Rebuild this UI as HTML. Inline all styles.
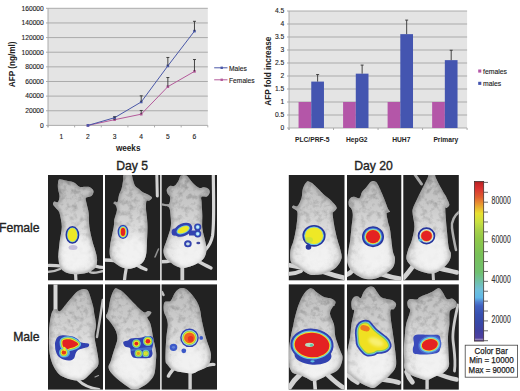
<!DOCTYPE html>
<html><head><meta charset="utf-8"><style>
html,body{margin:0;padding:0;background:#fff;width:520px;height:391px;overflow:hidden}
svg{display:block}
text{font-family:"Liberation Sans", sans-serif;fill:#222}
.t6{font-size:6.7px;stroke:#222;stroke-width:0.12px}
.t7{font-size:6.85px;stroke:#222;stroke-width:0.12px}
.b8{font-size:8.2px;font-weight:bold}
.b67{font-size:6.7px;font-weight:bold}
.t12{font-size:12.2px;stroke:#222;stroke-width:0.35px}
.t9{font-size:9px}
.cbl{font-size:10px;fill:#333;stroke:#333;stroke-width:0.15px}
.t8{font-size:8.7px;stroke:#222;stroke-width:0.25px}
</style></head><body>
<svg width="520" height="391" viewBox="0 0 520 391">
<rect x="48.0" y="8.3" width="159.80" height="117.10" fill="#e4e4e4"/>
<line x1="46.0" x2="207.8" y1="8.30" y2="8.30" stroke="#a4a4a4" stroke-width="0.9"/>
<text x="43.8" y="10.65" text-anchor="end" class="t6">160000</text>
<line x1="46.0" x2="207.8" y1="22.94" y2="22.94" stroke="#a4a4a4" stroke-width="0.9"/>
<text x="43.8" y="25.29" text-anchor="end" class="t6">140000</text>
<line x1="46.0" x2="207.8" y1="37.58" y2="37.58" stroke="#a4a4a4" stroke-width="0.9"/>
<text x="43.8" y="39.93" text-anchor="end" class="t6">120000</text>
<line x1="46.0" x2="207.8" y1="52.21" y2="52.21" stroke="#a4a4a4" stroke-width="0.9"/>
<text x="43.8" y="54.56" text-anchor="end" class="t6">100000</text>
<line x1="46.0" x2="207.8" y1="66.85" y2="66.85" stroke="#a4a4a4" stroke-width="0.9"/>
<text x="43.8" y="69.20" text-anchor="end" class="t6">80000</text>
<line x1="46.0" x2="207.8" y1="81.49" y2="81.49" stroke="#a4a4a4" stroke-width="0.9"/>
<text x="43.8" y="83.84" text-anchor="end" class="t6">60000</text>
<line x1="46.0" x2="207.8" y1="96.12" y2="96.12" stroke="#a4a4a4" stroke-width="0.9"/>
<text x="43.8" y="98.47" text-anchor="end" class="t6">40000</text>
<line x1="46.0" x2="207.8" y1="110.76" y2="110.76" stroke="#a4a4a4" stroke-width="0.9"/>
<text x="43.8" y="113.11" text-anchor="end" class="t6">20000</text>
<line x1="46.0" x2="207.8" y1="125.40" y2="125.40" stroke="#a4a4a4" stroke-width="0.9"/>
<text x="43.8" y="127.75" text-anchor="end" class="t6">0</text>
<line x1="48.0" x2="48.0" y1="8.3" y2="127.4" stroke="#a4a4a4" stroke-width="0.9"/>
<line x1="48.00" x2="48.00" y1="125.4" y2="127.4" stroke="#a4a4a4" stroke-width="0.9"/>
<line x1="74.63" x2="74.63" y1="125.4" y2="127.4" stroke="#a4a4a4" stroke-width="0.9"/>
<line x1="101.27" x2="101.27" y1="125.4" y2="127.4" stroke="#a4a4a4" stroke-width="0.9"/>
<line x1="127.90" x2="127.90" y1="125.4" y2="127.4" stroke="#a4a4a4" stroke-width="0.9"/>
<line x1="154.53" x2="154.53" y1="125.4" y2="127.4" stroke="#a4a4a4" stroke-width="0.9"/>
<line x1="181.17" x2="181.17" y1="125.4" y2="127.4" stroke="#a4a4a4" stroke-width="0.9"/>
<line x1="207.80" x2="207.80" y1="125.4" y2="127.4" stroke="#a4a4a4" stroke-width="0.9"/>
<text x="61.32" y="138.5" text-anchor="middle" class="t6">1</text>
<text x="87.95" y="138.5" text-anchor="middle" class="t6">2</text>
<text x="114.58" y="138.5" text-anchor="middle" class="t6">3</text>
<text x="141.22" y="138.5" text-anchor="middle" class="t6">4</text>
<text x="167.85" y="138.5" text-anchor="middle" class="t6">5</text>
<text x="194.48" y="138.5" text-anchor="middle" class="t6">6</text>
<polyline points="87.95,125.40 114.58,119.69 141.22,114.20 167.85,86.68 194.48,71.38" fill="none" stroke="#b45a9a" stroke-width="1"/>
<rect x="86.65" y="124.10" width="2.6" height="2.6" fill="#b45a9a"/>
<rect x="113.28" y="118.39" width="2.6" height="2.6" fill="#b45a9a"/>
<line x1="114.58" x2="114.58" y1="119.69" y2="118.96" stroke="#333" stroke-width="0.9"/>
<line x1="113.08" x2="116.08" y1="118.96" y2="118.96" stroke="#333" stroke-width="0.9"/>
<rect x="139.92" y="112.90" width="2.6" height="2.6" fill="#b45a9a"/>
<line x1="141.22" x2="141.22" y1="114.20" y2="110.47" stroke="#333" stroke-width="0.9"/>
<line x1="139.72" x2="142.72" y1="110.47" y2="110.47" stroke="#333" stroke-width="0.9"/>
<rect x="166.55" y="85.38" width="2.6" height="2.6" fill="#b45a9a"/>
<line x1="167.85" x2="167.85" y1="86.68" y2="77.53" stroke="#333" stroke-width="0.9"/>
<line x1="166.35" x2="169.35" y1="77.53" y2="77.53" stroke="#333" stroke-width="0.9"/>
<rect x="193.18" y="70.08" width="2.6" height="2.6" fill="#b45a9a"/>
<line x1="194.48" x2="194.48" y1="71.38" y2="59.52" stroke="#333" stroke-width="0.9"/>
<line x1="192.98" x2="195.98" y1="59.52" y2="59.52" stroke="#333" stroke-width="0.9"/>
<polyline points="87.95,125.40 114.58,117.71 141.22,101.98 167.85,65.89 194.48,31.12" fill="none" stroke="#4a58a8" stroke-width="1"/>
<rect x="86.65" y="124.10" width="2.6" height="2.6" fill="#4a58a8"/>
<rect x="113.28" y="116.41" width="2.6" height="2.6" fill="#4a58a8"/>
<line x1="114.58" x2="114.58" y1="117.71" y2="116.84" stroke="#333" stroke-width="0.9"/>
<line x1="113.08" x2="116.08" y1="116.84" y2="116.84" stroke="#333" stroke-width="0.9"/>
<rect x="139.92" y="100.68" width="2.6" height="2.6" fill="#4a58a8"/>
<line x1="141.22" x2="141.22" y1="101.98" y2="95.83" stroke="#333" stroke-width="0.9"/>
<line x1="139.72" x2="142.72" y1="95.83" y2="95.83" stroke="#333" stroke-width="0.9"/>
<rect x="166.55" y="64.59" width="2.6" height="2.6" fill="#4a58a8"/>
<line x1="167.85" x2="167.85" y1="65.89" y2="57.47" stroke="#333" stroke-width="0.9"/>
<line x1="166.35" x2="169.35" y1="57.47" y2="57.47" stroke="#333" stroke-width="0.9"/>
<rect x="193.18" y="29.82" width="2.6" height="2.6" fill="#4a58a8"/>
<line x1="194.48" x2="194.48" y1="31.12" y2="21.31" stroke="#333" stroke-width="0.9"/>
<line x1="192.98" x2="195.98" y1="21.31" y2="21.31" stroke="#333" stroke-width="0.9"/>
<line x1="214.2" x2="227.5" y1="67.8" y2="67.8" stroke="#4a58a8" stroke-width="1"/>
<rect x="220.5" y="66.6" width="2.4" height="2.4" fill="#4a58a8"/>
<text x="229" y="70.7" class="t6">Males</text>
<line x1="214.2" x2="227.5" y1="79.8" y2="79.8" stroke="#b45a9a" stroke-width="1"/>
<rect x="220.5" y="78.6" width="2.4" height="2.4" fill="#b45a9a"/>
<text x="229" y="82.7" class="t6">Females</text>
<text x="128.2" y="151" text-anchor="middle" class="b8">weeks</text>
<text transform="translate(15.1,64.3) rotate(-90)" text-anchor="middle" class="b8">AFP (ng/ml)</text>
<rect x="289.0" y="11.0" width="178.10" height="117.00" fill="#e4e4e4"/>
<line x1="287.0" x2="467.1" y1="11.00" y2="11.00" stroke="#a4a4a4" stroke-width="0.9"/>
<text x="284.2" y="13.35" text-anchor="end" class="t6">4.5</text>
<line x1="287.0" x2="467.1" y1="24.00" y2="24.00" stroke="#a4a4a4" stroke-width="0.9"/>
<text x="284.2" y="26.35" text-anchor="end" class="t6">4</text>
<line x1="287.0" x2="467.1" y1="37.00" y2="37.00" stroke="#a4a4a4" stroke-width="0.9"/>
<text x="284.2" y="39.35" text-anchor="end" class="t6">3.5</text>
<line x1="287.0" x2="467.1" y1="50.00" y2="50.00" stroke="#a4a4a4" stroke-width="0.9"/>
<text x="284.2" y="52.35" text-anchor="end" class="t6">3</text>
<line x1="287.0" x2="467.1" y1="63.00" y2="63.00" stroke="#a4a4a4" stroke-width="0.9"/>
<text x="284.2" y="65.35" text-anchor="end" class="t6">2.5</text>
<line x1="287.0" x2="467.1" y1="76.00" y2="76.00" stroke="#a4a4a4" stroke-width="0.9"/>
<text x="284.2" y="78.35" text-anchor="end" class="t6">2</text>
<line x1="287.0" x2="467.1" y1="89.00" y2="89.00" stroke="#a4a4a4" stroke-width="0.9"/>
<text x="284.2" y="91.35" text-anchor="end" class="t6">1.5</text>
<line x1="287.0" x2="467.1" y1="102.00" y2="102.00" stroke="#a4a4a4" stroke-width="0.9"/>
<text x="284.2" y="104.35" text-anchor="end" class="t6">1</text>
<line x1="287.0" x2="467.1" y1="115.00" y2="115.00" stroke="#a4a4a4" stroke-width="0.9"/>
<text x="284.2" y="117.35" text-anchor="end" class="t6">0.5</text>
<line x1="287.0" x2="467.1" y1="128.00" y2="128.00" stroke="#a4a4a4" stroke-width="0.9"/>
<text x="284.2" y="130.35" text-anchor="end" class="t6">0</text>
<line x1="289.0" x2="289.0" y1="11.0" y2="130.0" stroke="#a4a4a4" stroke-width="0.9"/>
<line x1="289.00" x2="289.00" y1="128.0" y2="130.0" stroke="#a4a4a4" stroke-width="0.9"/>
<line x1="333.52" x2="333.52" y1="128.0" y2="130.0" stroke="#a4a4a4" stroke-width="0.9"/>
<line x1="378.05" x2="378.05" y1="128.0" y2="130.0" stroke="#a4a4a4" stroke-width="0.9"/>
<line x1="422.58" x2="422.58" y1="128.0" y2="130.0" stroke="#a4a4a4" stroke-width="0.9"/>
<line x1="467.10" x2="467.10" y1="128.0" y2="130.0" stroke="#a4a4a4" stroke-width="0.9"/>
<rect x="298.56" y="102.00" width="12.7" height="26.00" fill="#b456a8"/>
<rect x="311.26" y="81.59" width="12.7" height="46.41" fill="#4455b0"/>
<line x1="317.61" x2="317.61" y1="81.59" y2="74.57" stroke="#333" stroke-width="0.9"/>
<line x1="316.11" x2="319.11" y1="74.57" y2="74.57" stroke="#333" stroke-width="0.9"/>
<text x="312.26" y="141.7" text-anchor="middle" class="b67">PLC/PRF-5</text>
<rect x="343.09" y="102.00" width="12.7" height="26.00" fill="#b456a8"/>
<rect x="355.79" y="73.66" width="12.7" height="54.34" fill="#4455b0"/>
<line x1="362.14" x2="362.14" y1="73.66" y2="65.08" stroke="#333" stroke-width="0.9"/>
<line x1="360.64" x2="363.64" y1="65.08" y2="65.08" stroke="#333" stroke-width="0.9"/>
<text x="356.79" y="141.7" text-anchor="middle" class="b67">HepG2</text>
<rect x="387.61" y="102.00" width="12.7" height="26.00" fill="#b456a8"/>
<rect x="400.31" y="34.14" width="12.7" height="93.86" fill="#4455b0"/>
<line x1="406.66" x2="406.66" y1="34.14" y2="20.10" stroke="#333" stroke-width="0.9"/>
<line x1="405.16" x2="408.16" y1="20.10" y2="20.10" stroke="#333" stroke-width="0.9"/>
<text x="401.31" y="141.7" text-anchor="middle" class="b67">HUH7</text>
<rect x="432.14" y="102.00" width="12.7" height="26.00" fill="#b456a8"/>
<rect x="444.84" y="60.14" width="12.7" height="67.86" fill="#4455b0"/>
<line x1="451.19" x2="451.19" y1="60.14" y2="50.26" stroke="#333" stroke-width="0.9"/>
<line x1="449.69" x2="452.69" y1="50.26" y2="50.26" stroke="#333" stroke-width="0.9"/>
<text x="445.84" y="141.7" text-anchor="middle" class="b67">Primary</text>
<rect x="478.2" y="69.5" width="3.1" height="3.1" fill="#b456a8"/>
<text x="483" y="73.7" class="t7">females</text>
<rect x="478.2" y="81.8" width="3.1" height="3.1" fill="#4455b0"/>
<text x="483" y="86" class="t7">males</text>
<text transform="translate(271.2,71.2) rotate(-90)" text-anchor="middle" class="b8">AFP fold increase</text>
<text x="132.2" y="170.0" text-anchor="middle" class="t12">Day 5</text>
<text x="373.6" y="170.0" text-anchor="middle" class="t12">Day 20</text>
<text x="39.6" y="231.5" text-anchor="end" class="t12">Female</text>
<text x="39.6" y="341.1" text-anchor="end" class="t12">Male</text>
<defs><filter id="bl" filterUnits="userSpaceOnUse" x="0" y="0" width="520" height="391"><feGaussianBlur stdDeviation="0.7"/></filter><filter id="bl2" filterUnits="userSpaceOnUse" x="0" y="0" width="520" height="391"><feGaussianBlur stdDeviation="3"/></filter><filter id="tex" filterUnits="userSpaceOnUse" x="0" y="0" width="520" height="391"><feTurbulence type="fractalNoise" baseFrequency="0.18" numOctaves="3" seed="7" result="n"/><feColorMatrix in="n" type="matrix" values="0 0 0 0 0  0 0 0 0 0  0 0 0 0 0  -1.8 0 0 0 1.0"/><feGaussianBlur stdDeviation="0.7"/><feComposite in2="SourceAlpha" operator="in"/></filter><filter id="bl15" filterUnits="userSpaceOnUse" x="0" y="0" width="520" height="391"><feGaussianBlur stdDeviation="1.6"/></filter><filter id="bb" filterUnits="userSpaceOnUse" x="0" y="0" width="520" height="391"><feGaussianBlur stdDeviation="0.55"/></filter></defs>
<clipPath id="c_f5a"><rect x="48.0" y="175.0" width="55.00" height="105.30"/></clipPath>
<linearGradient id="g_f5a" x1="0" y1="175.0" x2="0" y2="280.3" gradientUnits="userSpaceOnUse"><stop offset="0" stop-color="#bababa"/><stop offset="0.3" stop-color="#cacaca"/><stop offset="0.55" stop-color="#dedede"/><stop offset="1" stop-color="#f0f0f0"/></linearGradient>
<rect x="48.0" y="175.0" width="55.00" height="105.30" fill="#222"/>
<g clip-path="url(#c_f5a)">
<g filter="url(#bl)">
<path d="M61,266 C57,266 52,265 47,265.5" fill="none" stroke="#d2d2d2" stroke-width="3.2" stroke-linecap="round"/>
<path d="M60,269 C56,271 52,272 47,272" fill="none" stroke="#bdbdbd" stroke-width="2.4" stroke-linecap="round"/>
<path d="M95,266 C98,267 101,267.5 104,267.5" fill="none" stroke="#d2d2d2" stroke-width="3.0" stroke-linecap="round"/>
<path d="M90,272 C93,274 98,272 104,271" fill="none" stroke="#bdbdbd" stroke-width="2.4" stroke-linecap="round"/>
<path d="M75.5,272 L76,282" fill="none" stroke="#d2d2d2" stroke-width="3.2" stroke-linecap="round"/>
<path d="M59.50,179.30 C60.83,178.90 63.58,180.05 66.00,180.60 C68.42,181.15 71.75,181.57 74.00,182.60 C76.25,183.63 77.83,186.10 79.50,186.80 C81.17,187.50 82.33,186.77 84.00,186.80 C85.67,186.83 87.92,186.30 89.50,187.00 C91.08,187.70 93.17,189.50 93.50,191.00 C93.83,192.50 92.75,194.87 91.50,196.00 C90.25,197.13 86.83,196.63 86.00,197.80 C85.17,198.97 86.05,200.47 86.50,203.00 C86.95,205.53 88.22,209.00 88.70,213.00 C89.18,217.00 88.80,222.37 89.40,227.00 C90.00,231.63 91.13,236.18 92.30,240.80 C93.47,245.42 95.62,251.17 96.40,254.70 C97.18,258.23 97.23,259.78 97.00,262.00 C96.77,264.22 96.50,266.25 95.00,268.00 C93.50,269.75 90.50,271.50 88.00,272.50 C85.50,273.50 82.67,273.75 80.00,274.00 C77.33,274.25 74.50,274.33 72.00,274.00 C69.50,273.67 67.00,273.17 65.00,272.00 C63.00,270.83 61.10,269.33 60.00,267.00 C58.90,264.67 58.67,260.05 58.40,258.00 C58.13,255.95 58.17,257.57 58.40,254.70 C58.63,251.83 59.23,245.42 59.80,240.80 C60.37,236.18 61.77,231.30 61.80,227.00 C61.83,222.70 60.55,217.67 60.00,215.00 C59.45,212.33 59.33,212.33 58.50,211.00 C57.67,209.67 55.92,208.17 55.00,207.00 C54.08,205.83 53.08,204.92 53.00,204.00 C52.92,203.08 53.67,201.83 54.50,201.50 C55.33,201.17 57.17,202.92 58.00,202.00 C58.83,201.08 59.50,198.17 59.50,196.00 C59.50,193.83 58.25,191.17 58.00,189.00 C57.75,186.83 57.75,184.62 58.00,183.00 C58.25,181.38 58.17,179.70 59.50,179.30Z" fill="url(#g_f5a)"/>
</g>
<clipPath id="s_f5a"><path d="M59.50,179.30 C60.83,178.90 63.58,180.05 66.00,180.60 C68.42,181.15 71.75,181.57 74.00,182.60 C76.25,183.63 77.83,186.10 79.50,186.80 C81.17,187.50 82.33,186.77 84.00,186.80 C85.67,186.83 87.92,186.30 89.50,187.00 C91.08,187.70 93.17,189.50 93.50,191.00 C93.83,192.50 92.75,194.87 91.50,196.00 C90.25,197.13 86.83,196.63 86.00,197.80 C85.17,198.97 86.05,200.47 86.50,203.00 C86.95,205.53 88.22,209.00 88.70,213.00 C89.18,217.00 88.80,222.37 89.40,227.00 C90.00,231.63 91.13,236.18 92.30,240.80 C93.47,245.42 95.62,251.17 96.40,254.70 C97.18,258.23 97.23,259.78 97.00,262.00 C96.77,264.22 96.50,266.25 95.00,268.00 C93.50,269.75 90.50,271.50 88.00,272.50 C85.50,273.50 82.67,273.75 80.00,274.00 C77.33,274.25 74.50,274.33 72.00,274.00 C69.50,273.67 67.00,273.17 65.00,272.00 C63.00,270.83 61.10,269.33 60.00,267.00 C58.90,264.67 58.67,260.05 58.40,258.00 C58.13,255.95 58.17,257.57 58.40,254.70 C58.63,251.83 59.23,245.42 59.80,240.80 C60.37,236.18 61.77,231.30 61.80,227.00 C61.83,222.70 60.55,217.67 60.00,215.00 C59.45,212.33 59.33,212.33 58.50,211.00 C57.67,209.67 55.92,208.17 55.00,207.00 C54.08,205.83 53.08,204.92 53.00,204.00 C52.92,203.08 53.67,201.83 54.50,201.50 C55.33,201.17 57.17,202.92 58.00,202.00 C58.83,201.08 59.50,198.17 59.50,196.00 C59.50,193.83 58.25,191.17 58.00,189.00 C57.75,186.83 57.75,184.62 58.00,183.00 C58.25,181.38 58.17,179.70 59.50,179.30Z"/></clipPath>
<linearGradient id="tg_f5a" x1="0" y1="175.0" x2="0" y2="280.3" gradientUnits="userSpaceOnUse"><stop offset="0" stop-color="#fff"/><stop offset="0.5" stop-color="#999"/><stop offset="1" stop-color="#333"/></linearGradient>
<mask id="tm_f5a" maskUnits="userSpaceOnUse" x="0" y="0" width="520" height="391"><rect x="48.0" y="175.0" width="55.00" height="105.30" fill="url(#tg_f5a)"/></mask>
<g clip-path="url(#s_f5a)"><rect x="48.0" y="175.0" width="55.00" height="105.30" fill="#000" filter="url(#tex)" mask="url(#tm_f5a)" opacity="0.32"/><path d="M59.50,179.30 C60.83,178.90 63.58,180.05 66.00,180.60 C68.42,181.15 71.75,181.57 74.00,182.60 C76.25,183.63 77.83,186.10 79.50,186.80 C81.17,187.50 82.33,186.77 84.00,186.80 C85.67,186.83 87.92,186.30 89.50,187.00 C91.08,187.70 93.17,189.50 93.50,191.00 C93.83,192.50 92.75,194.87 91.50,196.00 C90.25,197.13 86.83,196.63 86.00,197.80 C85.17,198.97 86.05,200.47 86.50,203.00 C86.95,205.53 88.22,209.00 88.70,213.00 C89.18,217.00 88.80,222.37 89.40,227.00 C90.00,231.63 91.13,236.18 92.30,240.80 C93.47,245.42 95.62,251.17 96.40,254.70 C97.18,258.23 97.23,259.78 97.00,262.00 C96.77,264.22 96.50,266.25 95.00,268.00 C93.50,269.75 90.50,271.50 88.00,272.50 C85.50,273.50 82.67,273.75 80.00,274.00 C77.33,274.25 74.50,274.33 72.00,274.00 C69.50,273.67 67.00,273.17 65.00,272.00 C63.00,270.83 61.10,269.33 60.00,267.00 C58.90,264.67 58.67,260.05 58.40,258.00 C58.13,255.95 58.17,257.57 58.40,254.70 C58.63,251.83 59.23,245.42 59.80,240.80 C60.37,236.18 61.77,231.30 61.80,227.00 C61.83,222.70 60.55,217.67 60.00,215.00 C59.45,212.33 59.33,212.33 58.50,211.00 C57.67,209.67 55.92,208.17 55.00,207.00 C54.08,205.83 53.08,204.92 53.00,204.00 C52.92,203.08 53.67,201.83 54.50,201.50 C55.33,201.17 57.17,202.92 58.00,202.00 C58.83,201.08 59.50,198.17 59.50,196.00 C59.50,193.83 58.25,191.17 58.00,189.00 C57.75,186.83 57.75,184.62 58.00,183.00 C58.25,181.38 58.17,179.70 59.50,179.30Z" fill="none" stroke="#7a7a7a" stroke-width="4.5" filter="url(#bl15)" opacity="0.5"/></g>
<g clip-path="url(#s_f5a)"><ellipse cx="75.5" cy="252.9" rx="15.4" ry="17.9" fill="#f4f4f4" opacity="0.8" filter="url(#bl2)"/></g>
<g filter="url(#bb)"><ellipse cx="73" cy="247.5" rx="4.5" ry="2.5" fill="#9080c0" opacity="0.45"/><ellipse cx="72.4" cy="234.9" rx="4.8" ry="6.8" fill="#26349c" stroke="#26349c" stroke-width="4.20" stroke-linejoin="round" /><ellipse cx="72.4" cy="234.9" rx="4.8" ry="6.8" fill="#68c4e4" stroke="#68c4e4" stroke-width="1.20" stroke-linejoin="round" /><ellipse cx="72.4" cy="234.9" rx="4.8" ry="6.8" fill="#eee828" /></g>
</g>
<clipPath id="c_f5b"><rect x="105.0" y="175.0" width="55.20" height="105.30"/></clipPath>
<linearGradient id="g_f5b" x1="0" y1="175.0" x2="0" y2="280.3" gradientUnits="userSpaceOnUse"><stop offset="0" stop-color="#bababa"/><stop offset="0.3" stop-color="#cacaca"/><stop offset="0.55" stop-color="#dedede"/><stop offset="1" stop-color="#f0f0f0"/></linearGradient>
<rect x="105.0" y="175.0" width="55.20" height="105.30" fill="#222"/>
<g clip-path="url(#c_f5b)">
<g filter="url(#bl)">
<path d="M156.8,174 L157.3,196" fill="none" stroke="#d4d4d4" stroke-width="3.0" stroke-linecap="round"/>
<path d="M158.5,249 C157,252 156,255 155,257" fill="none" stroke="#909090" stroke-width="1.6" stroke-linecap="round"/>
<path d="M116,261 C112,260 108,260 104,260" fill="none" stroke="#d2d2d2" stroke-width="3.4" stroke-linecap="round"/>
<path d="M137,265 C140,267 143,268.5 146,269.5" fill="none" stroke="#d2d2d2" stroke-width="3.4" stroke-linecap="round"/>
<path d="M126.3,268 C125.5,272 124.8,276 124.3,282" fill="none" stroke="#d0d0d0" stroke-width="3.2" stroke-linecap="round"/>
<path d="M124.00,174.00 C125.33,172.83 129.50,173.00 131.00,174.00 C132.50,175.00 132.32,178.03 133.00,180.00 C133.68,181.97 134.10,184.30 135.10,185.80 C136.10,187.30 137.63,187.87 139.00,189.00 C140.37,190.13 141.80,191.68 143.30,192.60 C144.80,193.52 146.55,193.68 148.00,194.50 C149.45,195.32 151.75,196.50 152.00,197.50 C152.25,198.50 150.42,199.92 149.50,200.50 C148.58,201.08 147.08,199.62 146.50,201.00 C145.92,202.38 145.92,205.97 146.00,208.80 C146.08,211.63 146.75,214.80 147.00,218.00 C147.25,221.20 147.53,223.52 147.50,228.00 C147.47,232.48 147.05,240.40 146.80,244.90 C146.55,249.40 146.63,252.15 146.00,255.00 C145.37,257.85 144.67,260.00 143.00,262.00 C141.33,264.00 138.42,265.87 136.00,267.00 C133.58,268.13 131.00,268.80 128.50,268.80 C126.00,268.80 123.42,268.13 121.00,267.00 C118.58,265.87 115.83,263.83 114.00,262.00 C112.17,260.17 110.63,258.85 110.00,256.00 C109.37,253.15 109.58,249.73 110.20,244.90 C110.82,240.07 113.03,231.15 113.70,227.00 C114.37,222.85 113.67,222.80 114.20,220.00 C114.73,217.20 116.68,212.70 116.90,210.20 C117.12,207.70 116.07,206.13 115.50,205.00 C114.93,203.87 113.58,203.98 113.50,203.40 C113.42,202.82 114.33,201.73 115.00,201.50 C115.67,201.27 116.83,203.08 117.50,202.00 C118.17,200.92 118.32,197.25 119.00,195.00 C119.68,192.75 120.93,190.83 121.60,188.50 C122.27,186.17 122.60,183.42 123.00,181.00 C123.40,178.58 122.67,175.17 124.00,174.00Z" fill="url(#g_f5b)"/>
</g>
<clipPath id="s_f5b"><path d="M124.00,174.00 C125.33,172.83 129.50,173.00 131.00,174.00 C132.50,175.00 132.32,178.03 133.00,180.00 C133.68,181.97 134.10,184.30 135.10,185.80 C136.10,187.30 137.63,187.87 139.00,189.00 C140.37,190.13 141.80,191.68 143.30,192.60 C144.80,193.52 146.55,193.68 148.00,194.50 C149.45,195.32 151.75,196.50 152.00,197.50 C152.25,198.50 150.42,199.92 149.50,200.50 C148.58,201.08 147.08,199.62 146.50,201.00 C145.92,202.38 145.92,205.97 146.00,208.80 C146.08,211.63 146.75,214.80 147.00,218.00 C147.25,221.20 147.53,223.52 147.50,228.00 C147.47,232.48 147.05,240.40 146.80,244.90 C146.55,249.40 146.63,252.15 146.00,255.00 C145.37,257.85 144.67,260.00 143.00,262.00 C141.33,264.00 138.42,265.87 136.00,267.00 C133.58,268.13 131.00,268.80 128.50,268.80 C126.00,268.80 123.42,268.13 121.00,267.00 C118.58,265.87 115.83,263.83 114.00,262.00 C112.17,260.17 110.63,258.85 110.00,256.00 C109.37,253.15 109.58,249.73 110.20,244.90 C110.82,240.07 113.03,231.15 113.70,227.00 C114.37,222.85 113.67,222.80 114.20,220.00 C114.73,217.20 116.68,212.70 116.90,210.20 C117.12,207.70 116.07,206.13 115.50,205.00 C114.93,203.87 113.58,203.98 113.50,203.40 C113.42,202.82 114.33,201.73 115.00,201.50 C115.67,201.27 116.83,203.08 117.50,202.00 C118.17,200.92 118.32,197.25 119.00,195.00 C119.68,192.75 120.93,190.83 121.60,188.50 C122.27,186.17 122.60,183.42 123.00,181.00 C123.40,178.58 122.67,175.17 124.00,174.00Z"/></clipPath>
<linearGradient id="tg_f5b" x1="0" y1="175.0" x2="0" y2="280.3" gradientUnits="userSpaceOnUse"><stop offset="0" stop-color="#fff"/><stop offset="0.5" stop-color="#999"/><stop offset="1" stop-color="#333"/></linearGradient>
<mask id="tm_f5b" maskUnits="userSpaceOnUse" x="0" y="0" width="520" height="391"><rect x="105.0" y="175.0" width="55.20" height="105.30" fill="url(#tg_f5b)"/></mask>
<g clip-path="url(#s_f5b)"><rect x="105.0" y="175.0" width="55.20" height="105.30" fill="#000" filter="url(#tex)" mask="url(#tm_f5b)" opacity="0.32"/><path d="M124.00,174.00 C125.33,172.83 129.50,173.00 131.00,174.00 C132.50,175.00 132.32,178.03 133.00,180.00 C133.68,181.97 134.10,184.30 135.10,185.80 C136.10,187.30 137.63,187.87 139.00,189.00 C140.37,190.13 141.80,191.68 143.30,192.60 C144.80,193.52 146.55,193.68 148.00,194.50 C149.45,195.32 151.75,196.50 152.00,197.50 C152.25,198.50 150.42,199.92 149.50,200.50 C148.58,201.08 147.08,199.62 146.50,201.00 C145.92,202.38 145.92,205.97 146.00,208.80 C146.08,211.63 146.75,214.80 147.00,218.00 C147.25,221.20 147.53,223.52 147.50,228.00 C147.47,232.48 147.05,240.40 146.80,244.90 C146.55,249.40 146.63,252.15 146.00,255.00 C145.37,257.85 144.67,260.00 143.00,262.00 C141.33,264.00 138.42,265.87 136.00,267.00 C133.58,268.13 131.00,268.80 128.50,268.80 C126.00,268.80 123.42,268.13 121.00,267.00 C118.58,265.87 115.83,263.83 114.00,262.00 C112.17,260.17 110.63,258.85 110.00,256.00 C109.37,253.15 109.58,249.73 110.20,244.90 C110.82,240.07 113.03,231.15 113.70,227.00 C114.37,222.85 113.67,222.80 114.20,220.00 C114.73,217.20 116.68,212.70 116.90,210.20 C117.12,207.70 116.07,206.13 115.50,205.00 C114.93,203.87 113.58,203.98 113.50,203.40 C113.42,202.82 114.33,201.73 115.00,201.50 C115.67,201.27 116.83,203.08 117.50,202.00 C118.17,200.92 118.32,197.25 119.00,195.00 C119.68,192.75 120.93,190.83 121.60,188.50 C122.27,186.17 122.60,183.42 123.00,181.00 C123.40,178.58 122.67,175.17 124.00,174.00Z" fill="none" stroke="#7a7a7a" stroke-width="4.5" filter="url(#bl15)" opacity="0.5"/></g>
<g clip-path="url(#s_f5b)"><ellipse cx="132.6" cy="252.9" rx="15.5" ry="17.9" fill="#f4f4f4" opacity="0.8" filter="url(#bl2)"/></g>
<g filter="url(#bb)"><ellipse cx="123" cy="231.9" rx="2.3" ry="4.1" fill="#3242b0" stroke="#3242b0" stroke-width="6.20" stroke-linejoin="round" /><ellipse cx="123" cy="231.9" rx="2.3" ry="4.1" fill="#68c4e4" stroke="#68c4e4" stroke-width="3.60" stroke-linejoin="round" /><ellipse cx="123" cy="231.9" rx="2.3" ry="4.1" fill="#eee828" stroke="#eee828" stroke-width="1.80" stroke-linejoin="round" /><ellipse cx="123" cy="231.9" rx="2.3" ry="4.1" fill="#e42020" /></g>
</g>
<clipPath id="c_f5c"><rect x="161.6" y="175.0" width="55.40" height="105.30"/></clipPath>
<linearGradient id="g_f5c" x1="0" y1="175.0" x2="0" y2="280.3" gradientUnits="userSpaceOnUse"><stop offset="0" stop-color="#bababa"/><stop offset="0.3" stop-color="#cacaca"/><stop offset="0.55" stop-color="#dedede"/><stop offset="1" stop-color="#f0f0f0"/></linearGradient>
<rect x="161.6" y="175.0" width="55.40" height="105.30" fill="#222"/>
<g clip-path="url(#c_f5c)">
<g filter="url(#bl)">
<path d="M213.3,174 C213.5,200 214.5,222 212.5,236 C211,243 208.5,246.5 206,249" fill="none" stroke="#d8d8d8" stroke-width="3.2" stroke-linecap="round"/>
<path d="M171,260.6 C168,261.5 165,261.7 161,261.7" fill="none" stroke="#d2d2d2" stroke-width="3.4" stroke-linecap="round"/>
<path d="M199,261.7 C203,264 207,266 211,268" fill="none" stroke="#d2d2d2" stroke-width="3.4" stroke-linecap="round"/>
<path d="M182.3,266 L182.3,282" fill="none" stroke="#d0d0d0" stroke-width="3.8" stroke-linecap="round"/>
<path d="M181.00,175.50 C182.32,174.68 184.87,174.68 186.50,175.50 C188.13,176.32 189.38,178.82 190.80,180.40 C192.22,181.98 193.53,183.73 195.00,185.00 C196.47,186.27 198.10,187.62 199.60,188.00 C201.10,188.38 202.52,187.13 204.00,187.30 C205.48,187.47 207.55,188.12 208.50,189.00 C209.45,189.88 209.95,191.35 209.70,192.60 C209.45,193.85 208.37,195.77 207.00,196.50 C205.63,197.23 202.40,196.08 201.50,197.00 C200.60,197.92 201.47,199.00 201.60,202.00 C201.73,205.00 202.18,210.67 202.30,215.00 C202.42,219.33 201.83,223.70 202.30,228.00 C202.77,232.30 204.40,237.13 205.10,240.80 C205.80,244.47 206.68,247.13 206.50,250.00 C206.32,252.87 205.42,255.83 204.00,258.00 C202.58,260.17 200.33,261.58 198.00,263.00 C195.67,264.42 192.62,265.67 190.00,266.50 C187.38,267.33 184.63,268.08 182.30,268.00 C179.97,267.92 178.05,267.00 176.00,266.00 C173.95,265.00 171.83,263.50 170.00,262.00 C168.17,260.50 166.08,259.00 165.00,257.00 C163.92,255.00 163.25,252.70 163.50,250.00 C163.75,247.30 165.30,244.63 166.50,240.80 C167.70,236.97 170.03,231.30 170.70,227.00 C171.37,222.70 170.77,218.25 170.50,215.00 C170.23,211.75 170.02,209.00 169.10,207.50 C168.18,206.00 166.35,206.42 165.00,206.00 C163.65,205.58 161.42,205.42 161.00,205.00 C160.58,204.58 161.17,203.67 162.50,203.50 C163.83,203.33 167.75,205.08 169.00,204.00 C170.25,202.92 170.20,198.67 170.00,197.00 C169.80,195.33 168.33,195.25 167.80,194.00 C167.27,192.75 166.43,190.83 166.80,189.50 C167.17,188.17 168.72,186.62 170.00,186.00 C171.28,185.38 173.07,186.73 174.50,185.80 C175.93,184.87 177.52,182.12 178.60,180.40 C179.68,178.68 179.68,176.32 181.00,175.50Z" fill="url(#g_f5c)"/>
</g>
<clipPath id="s_f5c"><path d="M181.00,175.50 C182.32,174.68 184.87,174.68 186.50,175.50 C188.13,176.32 189.38,178.82 190.80,180.40 C192.22,181.98 193.53,183.73 195.00,185.00 C196.47,186.27 198.10,187.62 199.60,188.00 C201.10,188.38 202.52,187.13 204.00,187.30 C205.48,187.47 207.55,188.12 208.50,189.00 C209.45,189.88 209.95,191.35 209.70,192.60 C209.45,193.85 208.37,195.77 207.00,196.50 C205.63,197.23 202.40,196.08 201.50,197.00 C200.60,197.92 201.47,199.00 201.60,202.00 C201.73,205.00 202.18,210.67 202.30,215.00 C202.42,219.33 201.83,223.70 202.30,228.00 C202.77,232.30 204.40,237.13 205.10,240.80 C205.80,244.47 206.68,247.13 206.50,250.00 C206.32,252.87 205.42,255.83 204.00,258.00 C202.58,260.17 200.33,261.58 198.00,263.00 C195.67,264.42 192.62,265.67 190.00,266.50 C187.38,267.33 184.63,268.08 182.30,268.00 C179.97,267.92 178.05,267.00 176.00,266.00 C173.95,265.00 171.83,263.50 170.00,262.00 C168.17,260.50 166.08,259.00 165.00,257.00 C163.92,255.00 163.25,252.70 163.50,250.00 C163.75,247.30 165.30,244.63 166.50,240.80 C167.70,236.97 170.03,231.30 170.70,227.00 C171.37,222.70 170.77,218.25 170.50,215.00 C170.23,211.75 170.02,209.00 169.10,207.50 C168.18,206.00 166.35,206.42 165.00,206.00 C163.65,205.58 161.42,205.42 161.00,205.00 C160.58,204.58 161.17,203.67 162.50,203.50 C163.83,203.33 167.75,205.08 169.00,204.00 C170.25,202.92 170.20,198.67 170.00,197.00 C169.80,195.33 168.33,195.25 167.80,194.00 C167.27,192.75 166.43,190.83 166.80,189.50 C167.17,188.17 168.72,186.62 170.00,186.00 C171.28,185.38 173.07,186.73 174.50,185.80 C175.93,184.87 177.52,182.12 178.60,180.40 C179.68,178.68 179.68,176.32 181.00,175.50Z"/></clipPath>
<linearGradient id="tg_f5c" x1="0" y1="175.0" x2="0" y2="280.3" gradientUnits="userSpaceOnUse"><stop offset="0" stop-color="#fff"/><stop offset="0.5" stop-color="#999"/><stop offset="1" stop-color="#333"/></linearGradient>
<mask id="tm_f5c" maskUnits="userSpaceOnUse" x="0" y="0" width="520" height="391"><rect x="161.6" y="175.0" width="55.40" height="105.30" fill="url(#tg_f5c)"/></mask>
<g clip-path="url(#s_f5c)"><rect x="161.6" y="175.0" width="55.40" height="105.30" fill="#000" filter="url(#tex)" mask="url(#tm_f5c)" opacity="0.32"/><path d="M181.00,175.50 C182.32,174.68 184.87,174.68 186.50,175.50 C188.13,176.32 189.38,178.82 190.80,180.40 C192.22,181.98 193.53,183.73 195.00,185.00 C196.47,186.27 198.10,187.62 199.60,188.00 C201.10,188.38 202.52,187.13 204.00,187.30 C205.48,187.47 207.55,188.12 208.50,189.00 C209.45,189.88 209.95,191.35 209.70,192.60 C209.45,193.85 208.37,195.77 207.00,196.50 C205.63,197.23 202.40,196.08 201.50,197.00 C200.60,197.92 201.47,199.00 201.60,202.00 C201.73,205.00 202.18,210.67 202.30,215.00 C202.42,219.33 201.83,223.70 202.30,228.00 C202.77,232.30 204.40,237.13 205.10,240.80 C205.80,244.47 206.68,247.13 206.50,250.00 C206.32,252.87 205.42,255.83 204.00,258.00 C202.58,260.17 200.33,261.58 198.00,263.00 C195.67,264.42 192.62,265.67 190.00,266.50 C187.38,267.33 184.63,268.08 182.30,268.00 C179.97,267.92 178.05,267.00 176.00,266.00 C173.95,265.00 171.83,263.50 170.00,262.00 C168.17,260.50 166.08,259.00 165.00,257.00 C163.92,255.00 163.25,252.70 163.50,250.00 C163.75,247.30 165.30,244.63 166.50,240.80 C167.70,236.97 170.03,231.30 170.70,227.00 C171.37,222.70 170.77,218.25 170.50,215.00 C170.23,211.75 170.02,209.00 169.10,207.50 C168.18,206.00 166.35,206.42 165.00,206.00 C163.65,205.58 161.42,205.42 161.00,205.00 C160.58,204.58 161.17,203.67 162.50,203.50 C163.83,203.33 167.75,205.08 169.00,204.00 C170.25,202.92 170.20,198.67 170.00,197.00 C169.80,195.33 168.33,195.25 167.80,194.00 C167.27,192.75 166.43,190.83 166.80,189.50 C167.17,188.17 168.72,186.62 170.00,186.00 C171.28,185.38 173.07,186.73 174.50,185.80 C175.93,184.87 177.52,182.12 178.60,180.40 C179.68,178.68 179.68,176.32 181.00,175.50Z" fill="none" stroke="#7a7a7a" stroke-width="4.5" filter="url(#bl15)" opacity="0.5"/></g>
<g clip-path="url(#s_f5c)"><ellipse cx="189.3" cy="252.9" rx="15.5" ry="17.9" fill="#f4f4f4" opacity="0.8" filter="url(#bl2)"/></g>
<g filter="url(#bb)"><ellipse cx="174.8" cy="232.2" rx="3.2" ry="3.6" fill="#3242b0"/><rect x="189" y="230.5" width="7" height="5" fill="#3242b0"/><ellipse cx="183.2" cy="229.8" rx="6.2" ry="3.0" transform="rotate(-24 183.2 229.8)" fill="#3242b0" stroke="#3242b0" stroke-width="6.60" stroke-linejoin="round" /><ellipse cx="183.2" cy="229.8" rx="6.2" ry="3.0" transform="rotate(-24 183.2 229.8)" fill="#68c4e4" stroke="#68c4e4" stroke-width="1.80" stroke-linejoin="round" /><ellipse cx="183.2" cy="229.8" rx="6.2" ry="3.0" transform="rotate(-24 183.2 229.8)" fill="#eee828" /><rect x="195.5" y="227.5" width="4.4" height="6" fill="#3242b0"/><circle cx="197.7" cy="227.1" r="1.5" fill="#3242b0" stroke="#3242b0" stroke-width="4.20" stroke-linejoin="round" /><circle cx="197.7" cy="227.1" r="1.5" fill="#60a8e0" stroke="#60a8e0" stroke-width="1.20" stroke-linejoin="round" /><circle cx="197.7" cy="227.1" r="1.5" fill="#c8ecfa" /><circle cx="197.7" cy="233.8" r="1.5" fill="#3242b0" stroke="#3242b0" stroke-width="4.20" stroke-linejoin="round" /><circle cx="197.7" cy="233.8" r="1.5" fill="#60a8e0" stroke="#60a8e0" stroke-width="1.20" stroke-linejoin="round" /><circle cx="197.7" cy="233.8" r="1.5" fill="#c8ecfa" /><ellipse cx="187.9" cy="243.8" rx="1.9" ry="1.6" fill="#3242b0" stroke="#3242b0" stroke-width="3.80" stroke-linejoin="round" /><ellipse cx="187.9" cy="243.8" rx="1.9" ry="1.6" fill="#c8e0e8" /><ellipse cx="198.3" cy="243" rx="2.0" ry="1.2" fill="#4048a0"/></g>
</g>
<clipPath id="c_m5a"><rect x="48.0" y="284.4" width="55.00" height="105.20"/></clipPath>
<linearGradient id="g_m5a" x1="0" y1="284.4" x2="0" y2="389.6" gradientUnits="userSpaceOnUse"><stop offset="0" stop-color="#bababa"/><stop offset="0.3" stop-color="#cacaca"/><stop offset="0.55" stop-color="#dedede"/><stop offset="1" stop-color="#f0f0f0"/></linearGradient>
<rect x="48.0" y="284.4" width="55.00" height="105.20" fill="#222"/>
<g clip-path="url(#c_m5a)">
<g filter="url(#bl)">
<path d="M55.5,283 L55.5,311" fill="none" stroke="#d8d8d8" stroke-width="4.0" stroke-linecap="round"/>
<path d="M78,380 C83,385 89,388 99,389.5" fill="none" stroke="#d0d0d0" stroke-width="2.8" stroke-linecap="round"/>
<path d="M102.8,300 C101,312 99,325 97,337" fill="none" stroke="#b8b8b8" stroke-width="2.4" stroke-linecap="round"/>
<path d="M95,377 L98.5,375.5" fill="none" stroke="#a0a0a0" stroke-width="1.2" stroke-linecap="round"/>
<path d="M83.30,289.00 C84.55,288.83 85.60,288.98 86.50,289.50 C87.40,290.02 87.88,290.30 88.70,292.10 C89.52,293.90 90.60,297.65 91.40,300.30 C92.20,302.95 93.05,305.97 93.50,308.00 C93.95,310.03 93.68,309.67 94.10,312.50 C94.52,315.33 95.93,321.08 96.00,325.00 C96.07,328.92 94.37,331.87 94.50,336.00 C94.63,340.13 96.13,345.63 96.80,349.80 C97.47,353.97 98.38,358.22 98.50,361.00 C98.62,363.78 98.42,364.83 97.50,366.50 C96.58,368.17 94.58,369.42 93.00,371.00 C91.42,372.58 89.70,374.50 88.00,376.00 C86.30,377.50 85.13,379.30 82.80,380.00 C80.47,380.70 76.80,380.53 74.00,380.20 C71.20,379.87 68.43,378.95 66.00,378.00 C63.57,377.05 61.43,376.38 59.40,374.50 C57.37,372.62 55.32,369.62 53.80,366.70 C52.28,363.78 51.10,360.45 50.30,357.00 C49.50,353.55 49.22,349.50 49.00,346.00 C48.78,342.50 48.92,339.50 49.00,336.00 C49.08,332.50 49.00,329.00 49.50,325.00 C50.00,321.00 50.92,314.67 52.00,312.00 C53.08,309.33 54.63,309.15 56.00,309.00 C57.37,308.85 58.37,312.10 60.20,311.10 C62.03,310.10 64.52,305.93 67.00,303.00 C69.48,300.07 73.10,295.58 75.10,293.50 C77.10,291.42 77.63,291.25 79.00,290.50 C80.37,289.75 82.05,289.17 83.30,289.00Z" fill="url(#g_m5a)"/>
</g>
<clipPath id="s_m5a"><path d="M83.30,289.00 C84.55,288.83 85.60,288.98 86.50,289.50 C87.40,290.02 87.88,290.30 88.70,292.10 C89.52,293.90 90.60,297.65 91.40,300.30 C92.20,302.95 93.05,305.97 93.50,308.00 C93.95,310.03 93.68,309.67 94.10,312.50 C94.52,315.33 95.93,321.08 96.00,325.00 C96.07,328.92 94.37,331.87 94.50,336.00 C94.63,340.13 96.13,345.63 96.80,349.80 C97.47,353.97 98.38,358.22 98.50,361.00 C98.62,363.78 98.42,364.83 97.50,366.50 C96.58,368.17 94.58,369.42 93.00,371.00 C91.42,372.58 89.70,374.50 88.00,376.00 C86.30,377.50 85.13,379.30 82.80,380.00 C80.47,380.70 76.80,380.53 74.00,380.20 C71.20,379.87 68.43,378.95 66.00,378.00 C63.57,377.05 61.43,376.38 59.40,374.50 C57.37,372.62 55.32,369.62 53.80,366.70 C52.28,363.78 51.10,360.45 50.30,357.00 C49.50,353.55 49.22,349.50 49.00,346.00 C48.78,342.50 48.92,339.50 49.00,336.00 C49.08,332.50 49.00,329.00 49.50,325.00 C50.00,321.00 50.92,314.67 52.00,312.00 C53.08,309.33 54.63,309.15 56.00,309.00 C57.37,308.85 58.37,312.10 60.20,311.10 C62.03,310.10 64.52,305.93 67.00,303.00 C69.48,300.07 73.10,295.58 75.10,293.50 C77.10,291.42 77.63,291.25 79.00,290.50 C80.37,289.75 82.05,289.17 83.30,289.00Z"/></clipPath>
<linearGradient id="tg_m5a" x1="0" y1="284.4" x2="0" y2="389.6" gradientUnits="userSpaceOnUse"><stop offset="0" stop-color="#fff"/><stop offset="0.5" stop-color="#999"/><stop offset="1" stop-color="#333"/></linearGradient>
<mask id="tm_m5a" maskUnits="userSpaceOnUse" x="0" y="0" width="520" height="391"><rect x="48.0" y="284.4" width="55.00" height="105.20" fill="url(#tg_m5a)"/></mask>
<g clip-path="url(#s_m5a)"><rect x="48.0" y="284.4" width="55.00" height="105.20" fill="#000" filter="url(#tex)" mask="url(#tm_m5a)" opacity="0.32"/><path d="M83.30,289.00 C84.55,288.83 85.60,288.98 86.50,289.50 C87.40,290.02 87.88,290.30 88.70,292.10 C89.52,293.90 90.60,297.65 91.40,300.30 C92.20,302.95 93.05,305.97 93.50,308.00 C93.95,310.03 93.68,309.67 94.10,312.50 C94.52,315.33 95.93,321.08 96.00,325.00 C96.07,328.92 94.37,331.87 94.50,336.00 C94.63,340.13 96.13,345.63 96.80,349.80 C97.47,353.97 98.38,358.22 98.50,361.00 C98.62,363.78 98.42,364.83 97.50,366.50 C96.58,368.17 94.58,369.42 93.00,371.00 C91.42,372.58 89.70,374.50 88.00,376.00 C86.30,377.50 85.13,379.30 82.80,380.00 C80.47,380.70 76.80,380.53 74.00,380.20 C71.20,379.87 68.43,378.95 66.00,378.00 C63.57,377.05 61.43,376.38 59.40,374.50 C57.37,372.62 55.32,369.62 53.80,366.70 C52.28,363.78 51.10,360.45 50.30,357.00 C49.50,353.55 49.22,349.50 49.00,346.00 C48.78,342.50 48.92,339.50 49.00,336.00 C49.08,332.50 49.00,329.00 49.50,325.00 C50.00,321.00 50.92,314.67 52.00,312.00 C53.08,309.33 54.63,309.15 56.00,309.00 C57.37,308.85 58.37,312.10 60.20,311.10 C62.03,310.10 64.52,305.93 67.00,303.00 C69.48,300.07 73.10,295.58 75.10,293.50 C77.10,291.42 77.63,291.25 79.00,290.50 C80.37,289.75 82.05,289.17 83.30,289.00Z" fill="none" stroke="#7a7a7a" stroke-width="4.5" filter="url(#bl15)" opacity="0.5"/></g>
<g clip-path="url(#s_m5a)"><ellipse cx="75.5" cy="362.2" rx="15.4" ry="17.9" fill="#f4f4f4" opacity="0.8" filter="url(#bl2)"/></g>
<g filter="url(#bb)"><path d="M55.30,341.80 C55.73,340.30 56.48,337.98 57.70,336.90 C58.92,335.82 60.82,335.50 62.60,335.30 C64.38,335.10 66.48,335.43 68.40,335.70 C70.32,335.97 72.47,336.28 74.10,336.90 C75.73,337.52 77.12,338.52 78.20,339.40 C79.28,340.28 79.52,341.60 80.60,342.20 C81.68,342.80 83.33,342.73 84.70,343.00 C86.07,343.27 88.20,343.18 88.80,343.80 C89.40,344.42 89.25,345.97 88.30,346.70 C87.35,347.43 84.78,347.65 83.10,348.20 C81.42,348.75 79.43,349.15 78.20,350.00 C76.97,350.85 76.38,351.93 75.70,353.30 C75.02,354.67 75.05,357.02 74.10,358.20 C73.15,359.38 71.63,360.13 70.00,360.40 C68.37,360.67 66.22,360.45 64.30,359.80 C62.38,359.15 59.93,358.00 58.50,356.50 C57.07,355.00 56.27,352.57 55.70,350.80 C55.13,349.03 55.17,347.40 55.10,345.90 C55.03,344.40 54.87,343.30 55.30,341.80Z" fill="#3242b0"/><path d="M60.00,350.00 C60.67,348.83 62.67,349.00 64.00,349.00 C65.33,349.00 67.00,349.33 68.00,350.00 C69.00,350.67 70.00,351.92 70.00,353.00 C70.00,354.08 69.00,355.75 68.00,356.50 C67.00,357.25 65.33,357.58 64.00,357.50 C62.67,357.42 60.67,357.25 60.00,356.00 C59.33,354.75 59.33,351.17 60.00,350.00Z" fill="#68c4e4" opacity="0.7"/><path d="M62.60,341.00 C63.02,340.07 63.73,339.67 65.10,339.40 C66.47,339.13 69.03,339.00 70.80,339.40 C72.57,339.80 74.47,340.98 75.70,341.80 C76.93,342.62 78.33,343.48 78.20,344.30 C78.07,345.12 76.40,346.02 74.90,346.70 C73.40,347.38 70.70,347.85 69.20,348.40 C67.70,348.95 66.72,350.00 65.90,350.00 C65.08,350.00 64.85,349.23 64.30,348.40 C63.75,347.57 62.88,346.23 62.60,345.00 C62.32,343.77 62.18,341.93 62.60,341.00Z" fill="#68c4e4" stroke="#68c4e4" stroke-width="5.60" stroke-linejoin="round" /><path d="M62.60,341.00 C63.02,340.07 63.73,339.67 65.10,339.40 C66.47,339.13 69.03,339.00 70.80,339.40 C72.57,339.80 74.47,340.98 75.70,341.80 C76.93,342.62 78.33,343.48 78.20,344.30 C78.07,345.12 76.40,346.02 74.90,346.70 C73.40,347.38 70.70,347.85 69.20,348.40 C67.70,348.95 66.72,350.00 65.90,350.00 C65.08,350.00 64.85,349.23 64.30,348.40 C63.75,347.57 62.88,346.23 62.60,345.00 C62.32,343.77 62.18,341.93 62.60,341.00Z" fill="#8ccc50" stroke="#8ccc50" stroke-width="3.40" stroke-linejoin="round" /><path d="M62.60,341.00 C63.02,340.07 63.73,339.67 65.10,339.40 C66.47,339.13 69.03,339.00 70.80,339.40 C72.57,339.80 74.47,340.98 75.70,341.80 C76.93,342.62 78.33,343.48 78.20,344.30 C78.07,345.12 76.40,346.02 74.90,346.70 C73.40,347.38 70.70,347.85 69.20,348.40 C67.70,348.95 66.72,350.00 65.90,350.00 C65.08,350.00 64.85,349.23 64.30,348.40 C63.75,347.57 62.88,346.23 62.60,345.00 C62.32,343.77 62.18,341.93 62.60,341.00Z" fill="#eee828" stroke="#eee828" stroke-width="2.00" stroke-linejoin="round" /><path d="M62.60,341.00 C63.02,340.07 63.73,339.67 65.10,339.40 C66.47,339.13 69.03,339.00 70.80,339.40 C72.57,339.80 74.47,340.98 75.70,341.80 C76.93,342.62 78.33,343.48 78.20,344.30 C78.07,345.12 76.40,346.02 74.90,346.70 C73.40,347.38 70.70,347.85 69.20,348.40 C67.70,348.95 66.72,350.00 65.90,350.00 C65.08,350.00 64.85,349.23 64.30,348.40 C63.75,347.57 62.88,346.23 62.60,345.00 C62.32,343.77 62.18,341.93 62.60,341.00Z" fill="#e42020" /><circle cx="63.9" cy="352.4" r="2.2" fill="#68c4e4" stroke="#68c4e4" stroke-width="5.00" stroke-linejoin="round" /><circle cx="63.9" cy="352.4" r="2.2" fill="#8ccc50" stroke="#8ccc50" stroke-width="3.00" stroke-linejoin="round" /><circle cx="63.9" cy="352.4" r="2.2" fill="#eee828" stroke="#eee828" stroke-width="1.80" stroke-linejoin="round" /><circle cx="63.9" cy="352.4" r="2.2" fill="#e83a18" /><path d="M63.50,347.00 C63.83,346.50 65.17,346.92 65.50,347.50 C65.83,348.08 65.83,350.00 65.50,350.50 C65.17,351.00 63.83,351.08 63.50,350.50 C63.17,349.92 63.17,347.50 63.50,347.00Z" fill="#eee828"/></g>
</g>
<clipPath id="c_m5b"><rect x="105.0" y="284.4" width="55.20" height="105.20"/></clipPath>
<linearGradient id="g_m5b" x1="0" y1="284.4" x2="0" y2="389.6" gradientUnits="userSpaceOnUse"><stop offset="0" stop-color="#bababa"/><stop offset="0.3" stop-color="#cacaca"/><stop offset="0.55" stop-color="#dedede"/><stop offset="1" stop-color="#f0f0f0"/></linearGradient>
<rect x="105.0" y="284.4" width="55.20" height="105.20" fill="#222"/>
<g clip-path="url(#c_m5b)">
<g filter="url(#bl)">
<path d="M114.80,288.70 C116.17,287.37 117.63,288.93 119.00,289.50 C120.37,290.07 120.98,290.32 123.00,292.10 C125.02,293.88 128.40,297.48 131.10,300.20 C133.80,302.92 136.95,306.37 139.20,308.40 C141.45,310.43 143.13,311.97 144.60,312.40 C146.07,312.83 146.87,311.00 148.00,311.00 C149.13,311.00 151.23,311.57 151.40,312.40 C151.57,313.23 149.68,315.10 149.00,316.00 C148.32,316.90 147.05,316.45 147.30,317.80 C147.55,319.15 149.50,320.70 150.50,324.10 C151.50,327.50 152.37,333.50 153.30,338.20 C154.23,342.90 155.68,348.33 156.10,352.30 C156.52,356.27 156.12,358.30 155.80,362.00 C155.48,365.70 155.40,371.12 154.20,374.50 C153.00,377.88 150.97,380.05 148.60,382.30 C146.23,384.55 142.60,386.80 140.00,388.00 C137.40,389.20 135.28,389.88 133.00,389.50 C130.72,389.12 128.90,387.45 126.30,385.70 C123.70,383.95 120.00,381.23 117.40,379.00 C114.80,376.77 112.18,374.35 110.70,372.30 C109.22,370.25 108.50,368.55 108.50,366.70 C108.50,364.85 109.87,363.65 110.70,361.20 C111.53,358.75 112.73,354.43 113.50,352.00 C114.27,349.57 114.65,348.90 115.30,346.60 C115.95,344.30 117.40,341.02 117.40,338.20 C117.40,335.38 116.60,332.52 115.30,329.70 C114.00,326.88 111.15,323.50 109.60,321.30 C108.05,319.10 106.25,318.20 106.00,316.50 C105.75,314.80 107.30,314.27 108.10,311.10 C108.90,307.93 109.68,301.23 110.80,297.50 C111.92,293.77 113.43,290.03 114.80,288.70Z" fill="url(#g_m5b)"/>
</g>
<clipPath id="s_m5b"><path d="M114.80,288.70 C116.17,287.37 117.63,288.93 119.00,289.50 C120.37,290.07 120.98,290.32 123.00,292.10 C125.02,293.88 128.40,297.48 131.10,300.20 C133.80,302.92 136.95,306.37 139.20,308.40 C141.45,310.43 143.13,311.97 144.60,312.40 C146.07,312.83 146.87,311.00 148.00,311.00 C149.13,311.00 151.23,311.57 151.40,312.40 C151.57,313.23 149.68,315.10 149.00,316.00 C148.32,316.90 147.05,316.45 147.30,317.80 C147.55,319.15 149.50,320.70 150.50,324.10 C151.50,327.50 152.37,333.50 153.30,338.20 C154.23,342.90 155.68,348.33 156.10,352.30 C156.52,356.27 156.12,358.30 155.80,362.00 C155.48,365.70 155.40,371.12 154.20,374.50 C153.00,377.88 150.97,380.05 148.60,382.30 C146.23,384.55 142.60,386.80 140.00,388.00 C137.40,389.20 135.28,389.88 133.00,389.50 C130.72,389.12 128.90,387.45 126.30,385.70 C123.70,383.95 120.00,381.23 117.40,379.00 C114.80,376.77 112.18,374.35 110.70,372.30 C109.22,370.25 108.50,368.55 108.50,366.70 C108.50,364.85 109.87,363.65 110.70,361.20 C111.53,358.75 112.73,354.43 113.50,352.00 C114.27,349.57 114.65,348.90 115.30,346.60 C115.95,344.30 117.40,341.02 117.40,338.20 C117.40,335.38 116.60,332.52 115.30,329.70 C114.00,326.88 111.15,323.50 109.60,321.30 C108.05,319.10 106.25,318.20 106.00,316.50 C105.75,314.80 107.30,314.27 108.10,311.10 C108.90,307.93 109.68,301.23 110.80,297.50 C111.92,293.77 113.43,290.03 114.80,288.70Z"/></clipPath>
<linearGradient id="tg_m5b" x1="0" y1="284.4" x2="0" y2="389.6" gradientUnits="userSpaceOnUse"><stop offset="0" stop-color="#fff"/><stop offset="0.5" stop-color="#999"/><stop offset="1" stop-color="#333"/></linearGradient>
<mask id="tm_m5b" maskUnits="userSpaceOnUse" x="0" y="0" width="520" height="391"><rect x="105.0" y="284.4" width="55.20" height="105.20" fill="url(#tg_m5b)"/></mask>
<g clip-path="url(#s_m5b)"><rect x="105.0" y="284.4" width="55.20" height="105.20" fill="#000" filter="url(#tex)" mask="url(#tm_m5b)" opacity="0.32"/><path d="M114.80,288.70 C116.17,287.37 117.63,288.93 119.00,289.50 C120.37,290.07 120.98,290.32 123.00,292.10 C125.02,293.88 128.40,297.48 131.10,300.20 C133.80,302.92 136.95,306.37 139.20,308.40 C141.45,310.43 143.13,311.97 144.60,312.40 C146.07,312.83 146.87,311.00 148.00,311.00 C149.13,311.00 151.23,311.57 151.40,312.40 C151.57,313.23 149.68,315.10 149.00,316.00 C148.32,316.90 147.05,316.45 147.30,317.80 C147.55,319.15 149.50,320.70 150.50,324.10 C151.50,327.50 152.37,333.50 153.30,338.20 C154.23,342.90 155.68,348.33 156.10,352.30 C156.52,356.27 156.12,358.30 155.80,362.00 C155.48,365.70 155.40,371.12 154.20,374.50 C153.00,377.88 150.97,380.05 148.60,382.30 C146.23,384.55 142.60,386.80 140.00,388.00 C137.40,389.20 135.28,389.88 133.00,389.50 C130.72,389.12 128.90,387.45 126.30,385.70 C123.70,383.95 120.00,381.23 117.40,379.00 C114.80,376.77 112.18,374.35 110.70,372.30 C109.22,370.25 108.50,368.55 108.50,366.70 C108.50,364.85 109.87,363.65 110.70,361.20 C111.53,358.75 112.73,354.43 113.50,352.00 C114.27,349.57 114.65,348.90 115.30,346.60 C115.95,344.30 117.40,341.02 117.40,338.20 C117.40,335.38 116.60,332.52 115.30,329.70 C114.00,326.88 111.15,323.50 109.60,321.30 C108.05,319.10 106.25,318.20 106.00,316.50 C105.75,314.80 107.30,314.27 108.10,311.10 C108.90,307.93 109.68,301.23 110.80,297.50 C111.92,293.77 113.43,290.03 114.80,288.70Z" fill="none" stroke="#7a7a7a" stroke-width="4.5" filter="url(#bl15)" opacity="0.5"/></g>
<g clip-path="url(#s_m5b)"><ellipse cx="132.6" cy="362.2" rx="15.5" ry="17.9" fill="#f4f4f4" opacity="0.8" filter="url(#bl2)"/></g>
<g filter="url(#bb)"><path d="M123.30,342.00 C123.80,341.00 126.72,341.08 128.00,340.50 C129.28,339.92 129.00,338.95 131.00,338.50 C133.00,338.05 137.50,338.17 140.00,337.80 C142.50,337.43 144.17,336.55 146.00,336.30 C147.83,336.05 149.75,335.85 151.00,336.30 C152.25,336.75 153.17,337.55 153.50,339.00 C153.83,340.45 153.25,343.17 153.00,345.00 C152.75,346.83 152.08,348.50 152.00,350.00 C151.92,351.50 152.83,352.70 152.50,354.00 C152.17,355.30 151.92,357.10 150.00,357.80 C148.08,358.50 143.67,358.20 141.00,358.20 C138.33,358.20 135.67,358.50 134.00,357.80 C132.33,357.10 131.67,355.63 131.00,354.00 C130.33,352.37 131.00,349.25 130.00,348.00 C129.00,346.75 126.12,347.50 125.00,346.50 C123.88,345.50 122.80,343.00 123.30,342.00Z" fill="#3242b0"/><path d="M132.00,349.00 C133.33,348.50 137.00,348.33 140.00,348.00 C143.00,347.67 148.00,346.83 150.00,347.00 C152.00,347.17 152.00,348.42 152.00,349.00 C152.00,349.58 152.00,350.33 150.00,350.50 C148.00,350.67 143.00,349.92 140.00,350.00 C137.00,350.08 133.33,351.17 132.00,351.00 C130.67,350.83 130.67,349.50 132.00,349.00Z" fill="#4a78d0" opacity="0.8"/><circle cx="136.4" cy="343.6" r="1.9" fill="#68c4e4" stroke="#68c4e4" stroke-width="5.00" stroke-linejoin="round" /><circle cx="136.4" cy="343.6" r="1.9" fill="#8ccc50" stroke="#8ccc50" stroke-width="3.80" stroke-linejoin="round" /><circle cx="136.4" cy="343.6" r="1.9" fill="#eee828" stroke="#eee828" stroke-width="2.00" stroke-linejoin="round" /><circle cx="136.4" cy="343.6" r="1.9" fill="#e42020" /><circle cx="147.9" cy="341.2" r="2.3" fill="#68c4e4" stroke="#68c4e4" stroke-width="5.20" stroke-linejoin="round" /><circle cx="147.9" cy="341.2" r="2.3" fill="#8ccc50" stroke="#8ccc50" stroke-width="4.00" stroke-linejoin="round" /><circle cx="147.9" cy="341.2" r="2.3" fill="#eee828" stroke="#eee828" stroke-width="2.20" stroke-linejoin="round" /><circle cx="147.9" cy="341.2" r="2.3" fill="#e42020" /><circle cx="138.4" cy="353.4" r="1.6" fill="#68c4e4" stroke="#68c4e4" stroke-width="4.60" stroke-linejoin="round" /><circle cx="138.4" cy="353.4" r="1.6" fill="#8ccc50" stroke="#8ccc50" stroke-width="3.40" stroke-linejoin="round" /><circle cx="138.4" cy="353.4" r="1.6" fill="#eee828" stroke="#eee828" stroke-width="1.60" stroke-linejoin="round" /><circle cx="138.4" cy="353.4" r="1.6" fill="#e09828" /><circle cx="145.8" cy="353.4" r="1.4" fill="#68c4e4" stroke="#68c4e4" stroke-width="4.40" stroke-linejoin="round" /><circle cx="145.8" cy="353.4" r="1.4" fill="#8ccc50" stroke="#8ccc50" stroke-width="3.20" stroke-linejoin="round" /><circle cx="145.8" cy="353.4" r="1.4" fill="#eee828" stroke="#eee828" stroke-width="1.20" stroke-linejoin="round" /><circle cx="145.8" cy="353.4" r="1.4" fill="#d8d838" /></g>
</g>
<clipPath id="c_m5c"><rect x="161.6" y="284.4" width="55.40" height="105.20"/></clipPath>
<linearGradient id="g_m5c" x1="0" y1="284.4" x2="0" y2="389.6" gradientUnits="userSpaceOnUse"><stop offset="0" stop-color="#bababa"/><stop offset="0.3" stop-color="#cacaca"/><stop offset="0.55" stop-color="#dedede"/><stop offset="1" stop-color="#f0f0f0"/></linearGradient>
<rect x="161.6" y="284.4" width="55.40" height="105.20" fill="#222"/>
<g clip-path="url(#c_m5c)">
<g filter="url(#bl)">
<path d="M162,292 L163.5,295" fill="none" stroke="#c0c0c0" stroke-width="2.5" stroke-linecap="round"/>
<path d="M173.4,369 C171,372 169,374.5 168.5,376" fill="none" stroke="#d2d2d2" stroke-width="3.6" stroke-linecap="round"/>
<path d="M205,366 C208,365 211,364 214,364.5" fill="none" stroke="#d2d2d2" stroke-width="3.2" stroke-linecap="round"/>
<path d="M190.1,372 L190.1,391" fill="none" stroke="#d0d0d0" stroke-width="3.4" stroke-linecap="round"/>
<path d="M181.30,288.00 C182.63,287.92 184.20,287.87 186.00,289.00 C187.80,290.13 190.17,292.47 192.10,294.80 C194.03,297.13 196.23,300.28 197.60,303.00 C198.97,305.72 199.63,308.40 200.30,311.10 C200.97,313.80 200.70,314.88 201.60,319.20 C202.50,323.52 204.30,331.87 205.70,337.00 C207.10,342.13 209.12,346.67 210.00,350.00 C210.88,353.33 211.17,354.67 211.00,357.00 C210.83,359.33 210.00,362.17 209.00,364.00 C208.00,365.83 206.67,366.92 205.00,368.00 C203.33,369.08 201.12,369.60 199.00,370.50 C196.88,371.40 195.08,373.10 192.30,373.40 C189.52,373.70 185.02,372.70 182.30,372.30 C179.58,371.90 177.85,371.55 176.00,371.00 C174.15,370.45 172.70,370.17 171.20,369.00 C169.70,367.83 167.93,365.30 167.00,364.00 C166.07,362.70 165.83,363.53 165.60,361.20 C165.37,358.87 165.45,354.20 165.60,350.00 C165.75,345.80 166.13,340.17 166.50,336.00 C166.87,331.83 167.82,328.03 167.80,325.00 C167.78,321.97 167.03,319.97 166.40,317.80 C165.77,315.63 164.45,314.13 164.00,312.00 C163.55,309.87 163.45,306.73 163.70,305.00 C163.95,303.27 164.37,302.27 165.50,301.60 C166.63,300.93 169.00,302.35 170.50,301.00 C172.00,299.65 173.25,295.42 174.50,293.50 C175.75,291.58 176.87,290.42 178.00,289.50 C179.13,288.58 179.97,288.08 181.30,288.00Z" fill="url(#g_m5c)"/>
</g>
<clipPath id="s_m5c"><path d="M181.30,288.00 C182.63,287.92 184.20,287.87 186.00,289.00 C187.80,290.13 190.17,292.47 192.10,294.80 C194.03,297.13 196.23,300.28 197.60,303.00 C198.97,305.72 199.63,308.40 200.30,311.10 C200.97,313.80 200.70,314.88 201.60,319.20 C202.50,323.52 204.30,331.87 205.70,337.00 C207.10,342.13 209.12,346.67 210.00,350.00 C210.88,353.33 211.17,354.67 211.00,357.00 C210.83,359.33 210.00,362.17 209.00,364.00 C208.00,365.83 206.67,366.92 205.00,368.00 C203.33,369.08 201.12,369.60 199.00,370.50 C196.88,371.40 195.08,373.10 192.30,373.40 C189.52,373.70 185.02,372.70 182.30,372.30 C179.58,371.90 177.85,371.55 176.00,371.00 C174.15,370.45 172.70,370.17 171.20,369.00 C169.70,367.83 167.93,365.30 167.00,364.00 C166.07,362.70 165.83,363.53 165.60,361.20 C165.37,358.87 165.45,354.20 165.60,350.00 C165.75,345.80 166.13,340.17 166.50,336.00 C166.87,331.83 167.82,328.03 167.80,325.00 C167.78,321.97 167.03,319.97 166.40,317.80 C165.77,315.63 164.45,314.13 164.00,312.00 C163.55,309.87 163.45,306.73 163.70,305.00 C163.95,303.27 164.37,302.27 165.50,301.60 C166.63,300.93 169.00,302.35 170.50,301.00 C172.00,299.65 173.25,295.42 174.50,293.50 C175.75,291.58 176.87,290.42 178.00,289.50 C179.13,288.58 179.97,288.08 181.30,288.00Z"/></clipPath>
<linearGradient id="tg_m5c" x1="0" y1="284.4" x2="0" y2="389.6" gradientUnits="userSpaceOnUse"><stop offset="0" stop-color="#fff"/><stop offset="0.5" stop-color="#999"/><stop offset="1" stop-color="#333"/></linearGradient>
<mask id="tm_m5c" maskUnits="userSpaceOnUse" x="0" y="0" width="520" height="391"><rect x="161.6" y="284.4" width="55.40" height="105.20" fill="url(#tg_m5c)"/></mask>
<g clip-path="url(#s_m5c)"><rect x="161.6" y="284.4" width="55.40" height="105.20" fill="#000" filter="url(#tex)" mask="url(#tm_m5c)" opacity="0.32"/><path d="M181.30,288.00 C182.63,287.92 184.20,287.87 186.00,289.00 C187.80,290.13 190.17,292.47 192.10,294.80 C194.03,297.13 196.23,300.28 197.60,303.00 C198.97,305.72 199.63,308.40 200.30,311.10 C200.97,313.80 200.70,314.88 201.60,319.20 C202.50,323.52 204.30,331.87 205.70,337.00 C207.10,342.13 209.12,346.67 210.00,350.00 C210.88,353.33 211.17,354.67 211.00,357.00 C210.83,359.33 210.00,362.17 209.00,364.00 C208.00,365.83 206.67,366.92 205.00,368.00 C203.33,369.08 201.12,369.60 199.00,370.50 C196.88,371.40 195.08,373.10 192.30,373.40 C189.52,373.70 185.02,372.70 182.30,372.30 C179.58,371.90 177.85,371.55 176.00,371.00 C174.15,370.45 172.70,370.17 171.20,369.00 C169.70,367.83 167.93,365.30 167.00,364.00 C166.07,362.70 165.83,363.53 165.60,361.20 C165.37,358.87 165.45,354.20 165.60,350.00 C165.75,345.80 166.13,340.17 166.50,336.00 C166.87,331.83 167.82,328.03 167.80,325.00 C167.78,321.97 167.03,319.97 166.40,317.80 C165.77,315.63 164.45,314.13 164.00,312.00 C163.55,309.87 163.45,306.73 163.70,305.00 C163.95,303.27 164.37,302.27 165.50,301.60 C166.63,300.93 169.00,302.35 170.50,301.00 C172.00,299.65 173.25,295.42 174.50,293.50 C175.75,291.58 176.87,290.42 178.00,289.50 C179.13,288.58 179.97,288.08 181.30,288.00Z" fill="none" stroke="#7a7a7a" stroke-width="4.5" filter="url(#bl15)" opacity="0.5"/></g>
<g clip-path="url(#s_m5c)"><ellipse cx="189.3" cy="362.2" rx="15.5" ry="17.9" fill="#f4f4f4" opacity="0.8" filter="url(#bl2)"/></g>
<g filter="url(#bb)"><circle cx="189.5" cy="337.8" r="5.4" fill="#3242b0" stroke="#3242b0" stroke-width="7.80" stroke-linejoin="round" /><circle cx="189.5" cy="337.8" r="5.4" fill="#a8d8e8" stroke="#a8d8e8" stroke-width="5.00" stroke-linejoin="round" /><circle cx="189.5" cy="337.8" r="5.4" fill="#8ccc50" stroke="#8ccc50" stroke-width="3.40" stroke-linejoin="round" /><circle cx="189.5" cy="337.8" r="5.4" fill="#eee828" stroke="#eee828" stroke-width="1.80" stroke-linejoin="round" /><circle cx="189.5" cy="337.8" r="5.4" fill="#f06020" /><circle cx="190.6" cy="338.9" r="2.8" fill="#e83020"/><ellipse cx="173.5" cy="347.3" rx="1.6" ry="1.4" fill="#3a58c8" stroke="#3a58c8" stroke-width="4.40" stroke-linejoin="round" /><ellipse cx="173.5" cy="347.3" rx="1.6" ry="1.4" fill="#6080d8" /><circle cx="183.8" cy="350.8" r="2.4" fill="#3a58c8"/><circle cx="201.2" cy="337.9" r="1.9" fill="#3a58c8"/></g>
</g>
<clipPath id="c_f20a"><rect x="288.8" y="175.0" width="55.70" height="105.30"/></clipPath>
<linearGradient id="g_f20a" x1="0" y1="175.0" x2="0" y2="280.3" gradientUnits="userSpaceOnUse"><stop offset="0" stop-color="#bababa"/><stop offset="0.3" stop-color="#cacaca"/><stop offset="0.55" stop-color="#dedede"/><stop offset="1" stop-color="#f0f0f0"/></linearGradient>
<rect x="288.8" y="175.0" width="55.70" height="105.30" fill="#222"/>
<g clip-path="url(#c_f20a)">
<g filter="url(#bl)">
<path d="M299,267 C296,266.5 292,265.5 288,265" fill="none" stroke="#d2d2d2" stroke-width="4.6" stroke-linecap="round"/>
<path d="M301,271 C297,273 293,274 288,274" fill="none" stroke="#d2d2d2" stroke-width="4.0" stroke-linecap="round"/>
<path d="M324,272 C331,274.5 338,276.5 345,278" fill="none" stroke="#d2d2d2" stroke-width="4.6" stroke-linecap="round"/>
<path d="M307.00,181.50 C308.35,180.50 309.65,181.78 311.00,182.50 C312.35,183.22 312.83,183.67 315.10,185.80 C317.37,187.93 321.90,192.82 324.60,195.30 C327.30,197.78 329.28,198.67 331.30,200.70 C333.32,202.73 336.25,205.68 336.70,207.50 C337.15,209.32 334.67,210.47 334.00,211.60 C333.33,212.73 332.58,211.57 332.70,214.30 C332.82,217.03 333.87,223.58 334.70,228.00 C335.53,232.42 336.77,237.22 337.70,240.80 C338.63,244.38 339.67,246.53 340.30,249.50 C340.93,252.47 342.25,255.57 341.50,258.60 C340.75,261.63 338.63,265.23 335.80,267.70 C332.97,270.17 327.80,272.22 324.50,273.40 C321.20,274.58 318.47,274.62 316.00,274.80 C313.53,274.98 312.03,275.30 309.70,274.50 C307.37,273.70 304.08,271.32 302.00,270.00 C299.92,268.68 299.03,267.93 297.20,266.60 C295.37,265.27 292.13,264.65 291.00,262.00 C289.87,259.35 289.98,254.23 290.40,250.70 C290.82,247.17 292.52,244.75 293.50,240.80 C294.48,236.85 295.63,231.65 296.30,227.00 C296.97,222.35 297.72,215.82 297.50,212.90 C297.28,209.98 295.90,210.40 295.00,209.50 C294.10,208.60 292.35,208.17 292.10,207.50 C291.85,206.83 292.60,205.75 293.50,205.50 C294.40,205.25 296.17,207.25 297.50,206.00 C298.83,204.75 300.60,200.92 301.50,198.00 C302.40,195.08 301.98,191.25 302.90,188.50 C303.82,185.75 305.65,182.50 307.00,181.50Z" fill="url(#g_f20a)"/>
</g>
<clipPath id="s_f20a"><path d="M307.00,181.50 C308.35,180.50 309.65,181.78 311.00,182.50 C312.35,183.22 312.83,183.67 315.10,185.80 C317.37,187.93 321.90,192.82 324.60,195.30 C327.30,197.78 329.28,198.67 331.30,200.70 C333.32,202.73 336.25,205.68 336.70,207.50 C337.15,209.32 334.67,210.47 334.00,211.60 C333.33,212.73 332.58,211.57 332.70,214.30 C332.82,217.03 333.87,223.58 334.70,228.00 C335.53,232.42 336.77,237.22 337.70,240.80 C338.63,244.38 339.67,246.53 340.30,249.50 C340.93,252.47 342.25,255.57 341.50,258.60 C340.75,261.63 338.63,265.23 335.80,267.70 C332.97,270.17 327.80,272.22 324.50,273.40 C321.20,274.58 318.47,274.62 316.00,274.80 C313.53,274.98 312.03,275.30 309.70,274.50 C307.37,273.70 304.08,271.32 302.00,270.00 C299.92,268.68 299.03,267.93 297.20,266.60 C295.37,265.27 292.13,264.65 291.00,262.00 C289.87,259.35 289.98,254.23 290.40,250.70 C290.82,247.17 292.52,244.75 293.50,240.80 C294.48,236.85 295.63,231.65 296.30,227.00 C296.97,222.35 297.72,215.82 297.50,212.90 C297.28,209.98 295.90,210.40 295.00,209.50 C294.10,208.60 292.35,208.17 292.10,207.50 C291.85,206.83 292.60,205.75 293.50,205.50 C294.40,205.25 296.17,207.25 297.50,206.00 C298.83,204.75 300.60,200.92 301.50,198.00 C302.40,195.08 301.98,191.25 302.90,188.50 C303.82,185.75 305.65,182.50 307.00,181.50Z"/></clipPath>
<linearGradient id="tg_f20a" x1="0" y1="175.0" x2="0" y2="280.3" gradientUnits="userSpaceOnUse"><stop offset="0" stop-color="#fff"/><stop offset="0.5" stop-color="#999"/><stop offset="1" stop-color="#333"/></linearGradient>
<mask id="tm_f20a" maskUnits="userSpaceOnUse" x="0" y="0" width="520" height="391"><rect x="288.8" y="175.0" width="55.70" height="105.30" fill="url(#tg_f20a)"/></mask>
<g clip-path="url(#s_f20a)"><rect x="288.8" y="175.0" width="55.70" height="105.30" fill="#000" filter="url(#tex)" mask="url(#tm_f20a)" opacity="0.32"/><path d="M307.00,181.50 C308.35,180.50 309.65,181.78 311.00,182.50 C312.35,183.22 312.83,183.67 315.10,185.80 C317.37,187.93 321.90,192.82 324.60,195.30 C327.30,197.78 329.28,198.67 331.30,200.70 C333.32,202.73 336.25,205.68 336.70,207.50 C337.15,209.32 334.67,210.47 334.00,211.60 C333.33,212.73 332.58,211.57 332.70,214.30 C332.82,217.03 333.87,223.58 334.70,228.00 C335.53,232.42 336.77,237.22 337.70,240.80 C338.63,244.38 339.67,246.53 340.30,249.50 C340.93,252.47 342.25,255.57 341.50,258.60 C340.75,261.63 338.63,265.23 335.80,267.70 C332.97,270.17 327.80,272.22 324.50,273.40 C321.20,274.58 318.47,274.62 316.00,274.80 C313.53,274.98 312.03,275.30 309.70,274.50 C307.37,273.70 304.08,271.32 302.00,270.00 C299.92,268.68 299.03,267.93 297.20,266.60 C295.37,265.27 292.13,264.65 291.00,262.00 C289.87,259.35 289.98,254.23 290.40,250.70 C290.82,247.17 292.52,244.75 293.50,240.80 C294.48,236.85 295.63,231.65 296.30,227.00 C296.97,222.35 297.72,215.82 297.50,212.90 C297.28,209.98 295.90,210.40 295.00,209.50 C294.10,208.60 292.35,208.17 292.10,207.50 C291.85,206.83 292.60,205.75 293.50,205.50 C294.40,205.25 296.17,207.25 297.50,206.00 C298.83,204.75 300.60,200.92 301.50,198.00 C302.40,195.08 301.98,191.25 302.90,188.50 C303.82,185.75 305.65,182.50 307.00,181.50Z" fill="none" stroke="#7a7a7a" stroke-width="4.5" filter="url(#bl15)" opacity="0.5"/></g>
<g clip-path="url(#s_f20a)"><ellipse cx="316.6" cy="252.9" rx="15.6" ry="17.9" fill="#f4f4f4" opacity="0.8" filter="url(#bl2)"/></g>
<g filter="url(#bb)"><circle cx="308.5" cy="247" r="2.8" fill="#26349c"/><ellipse cx="314.0" cy="235.8" rx="9.1" ry="8.4" fill="#26349c" stroke="#26349c" stroke-width="5.00" stroke-linejoin="round" /><ellipse cx="314.0" cy="235.8" rx="9.1" ry="8.4" fill="#68c4e4" stroke="#68c4e4" stroke-width="1.80" stroke-linejoin="round" /><ellipse cx="314.0" cy="235.8" rx="9.1" ry="8.4" fill="#eee828" /><ellipse cx="309" cy="240" rx="4" ry="3" fill="#b8e040" opacity="0.6"/></g>
</g>
<clipPath id="c_f20b"><rect x="347.0" y="175.0" width="54.30" height="105.30"/></clipPath>
<linearGradient id="g_f20b" x1="0" y1="175.0" x2="0" y2="280.3" gradientUnits="userSpaceOnUse"><stop offset="0" stop-color="#bababa"/><stop offset="0.3" stop-color="#cacaca"/><stop offset="0.55" stop-color="#dedede"/><stop offset="1" stop-color="#f0f0f0"/></linearGradient>
<rect x="347.0" y="175.0" width="54.30" height="105.30" fill="#222"/>
<g clip-path="url(#c_f20b)">
<g filter="url(#bl)">
<path d="M353,270 C351,272.5 349,274 346,275" fill="none" stroke="#d2d2d2" stroke-width="4.6" stroke-linecap="round"/>
<path d="M381,274 C388,276.5 395,278 402,279" fill="none" stroke="#d2d2d2" stroke-width="4.6" stroke-linecap="round"/>
<path d="M373.10,181.00 C374.10,180.92 375.10,181.20 376.00,182.00 C376.90,182.80 377.18,183.13 378.50,185.80 C379.82,188.47 382.32,194.17 383.90,198.00 C385.48,201.83 386.98,206.53 388.00,208.80 C389.02,211.07 390.17,210.90 390.00,211.60 C389.83,212.30 387.57,212.55 387.00,213.00 C386.43,213.45 386.43,212.80 386.60,214.30 C386.77,215.80 387.42,219.38 388.00,222.00 C388.58,224.62 389.32,225.22 390.10,230.00 C390.88,234.78 391.88,245.93 392.70,250.70 C393.52,255.47 395.00,255.77 395.00,258.60 C395.00,261.43 394.78,264.87 392.70,267.70 C390.62,270.53 385.72,273.72 382.50,275.60 C379.28,277.48 376.82,278.62 373.40,279.00 C369.98,279.38 365.60,279.22 362.00,277.90 C358.40,276.58 354.25,273.75 351.80,271.10 C349.35,268.45 347.87,265.40 347.30,262.00 C346.73,258.60 347.93,254.23 348.40,250.70 C348.87,247.17 349.58,244.75 350.10,240.80 C350.62,236.85 351.05,231.30 351.50,227.00 C351.95,222.70 352.82,218.03 352.80,215.00 C352.78,211.97 352.03,210.30 351.40,208.80 C350.77,207.30 349.45,207.30 349.00,206.00 C348.55,204.70 348.37,202.42 348.70,201.00 C349.03,199.58 350.10,198.22 351.00,197.50 C351.90,196.78 352.68,196.62 354.10,196.70 C355.52,196.78 358.18,198.78 359.50,198.00 C360.82,197.22 360.87,193.80 362.00,192.00 C363.13,190.20 364.97,188.78 366.30,187.20 C367.63,185.62 368.87,183.53 370.00,182.50 C371.13,181.47 372.10,181.08 373.10,181.00Z" fill="url(#g_f20b)"/>
</g>
<clipPath id="s_f20b"><path d="M373.10,181.00 C374.10,180.92 375.10,181.20 376.00,182.00 C376.90,182.80 377.18,183.13 378.50,185.80 C379.82,188.47 382.32,194.17 383.90,198.00 C385.48,201.83 386.98,206.53 388.00,208.80 C389.02,211.07 390.17,210.90 390.00,211.60 C389.83,212.30 387.57,212.55 387.00,213.00 C386.43,213.45 386.43,212.80 386.60,214.30 C386.77,215.80 387.42,219.38 388.00,222.00 C388.58,224.62 389.32,225.22 390.10,230.00 C390.88,234.78 391.88,245.93 392.70,250.70 C393.52,255.47 395.00,255.77 395.00,258.60 C395.00,261.43 394.78,264.87 392.70,267.70 C390.62,270.53 385.72,273.72 382.50,275.60 C379.28,277.48 376.82,278.62 373.40,279.00 C369.98,279.38 365.60,279.22 362.00,277.90 C358.40,276.58 354.25,273.75 351.80,271.10 C349.35,268.45 347.87,265.40 347.30,262.00 C346.73,258.60 347.93,254.23 348.40,250.70 C348.87,247.17 349.58,244.75 350.10,240.80 C350.62,236.85 351.05,231.30 351.50,227.00 C351.95,222.70 352.82,218.03 352.80,215.00 C352.78,211.97 352.03,210.30 351.40,208.80 C350.77,207.30 349.45,207.30 349.00,206.00 C348.55,204.70 348.37,202.42 348.70,201.00 C349.03,199.58 350.10,198.22 351.00,197.50 C351.90,196.78 352.68,196.62 354.10,196.70 C355.52,196.78 358.18,198.78 359.50,198.00 C360.82,197.22 360.87,193.80 362.00,192.00 C363.13,190.20 364.97,188.78 366.30,187.20 C367.63,185.62 368.87,183.53 370.00,182.50 C371.13,181.47 372.10,181.08 373.10,181.00Z"/></clipPath>
<linearGradient id="tg_f20b" x1="0" y1="175.0" x2="0" y2="280.3" gradientUnits="userSpaceOnUse"><stop offset="0" stop-color="#fff"/><stop offset="0.5" stop-color="#999"/><stop offset="1" stop-color="#333"/></linearGradient>
<mask id="tm_f20b" maskUnits="userSpaceOnUse" x="0" y="0" width="520" height="391"><rect x="347.0" y="175.0" width="54.30" height="105.30" fill="url(#tg_f20b)"/></mask>
<g clip-path="url(#s_f20b)"><rect x="347.0" y="175.0" width="54.30" height="105.30" fill="#000" filter="url(#tex)" mask="url(#tm_f20b)" opacity="0.32"/><path d="M373.10,181.00 C374.10,180.92 375.10,181.20 376.00,182.00 C376.90,182.80 377.18,183.13 378.50,185.80 C379.82,188.47 382.32,194.17 383.90,198.00 C385.48,201.83 386.98,206.53 388.00,208.80 C389.02,211.07 390.17,210.90 390.00,211.60 C389.83,212.30 387.57,212.55 387.00,213.00 C386.43,213.45 386.43,212.80 386.60,214.30 C386.77,215.80 387.42,219.38 388.00,222.00 C388.58,224.62 389.32,225.22 390.10,230.00 C390.88,234.78 391.88,245.93 392.70,250.70 C393.52,255.47 395.00,255.77 395.00,258.60 C395.00,261.43 394.78,264.87 392.70,267.70 C390.62,270.53 385.72,273.72 382.50,275.60 C379.28,277.48 376.82,278.62 373.40,279.00 C369.98,279.38 365.60,279.22 362.00,277.90 C358.40,276.58 354.25,273.75 351.80,271.10 C349.35,268.45 347.87,265.40 347.30,262.00 C346.73,258.60 347.93,254.23 348.40,250.70 C348.87,247.17 349.58,244.75 350.10,240.80 C350.62,236.85 351.05,231.30 351.50,227.00 C351.95,222.70 352.82,218.03 352.80,215.00 C352.78,211.97 352.03,210.30 351.40,208.80 C350.77,207.30 349.45,207.30 349.00,206.00 C348.55,204.70 348.37,202.42 348.70,201.00 C349.03,199.58 350.10,198.22 351.00,197.50 C351.90,196.78 352.68,196.62 354.10,196.70 C355.52,196.78 358.18,198.78 359.50,198.00 C360.82,197.22 360.87,193.80 362.00,192.00 C363.13,190.20 364.97,188.78 366.30,187.20 C367.63,185.62 368.87,183.53 370.00,182.50 C371.13,181.47 372.10,181.08 373.10,181.00Z" fill="none" stroke="#7a7a7a" stroke-width="4.5" filter="url(#bl15)" opacity="0.5"/></g>
<g clip-path="url(#s_f20b)"><ellipse cx="374.1" cy="252.9" rx="15.2" ry="17.9" fill="#f4f4f4" opacity="0.8" filter="url(#bl2)"/></g>
<g filter="url(#bb)"><ellipse cx="373.0" cy="236.7" rx="7.1" ry="6.6" fill="#26349c" stroke="#26349c" stroke-width="7.80" stroke-linejoin="round" /><ellipse cx="373.0" cy="236.7" rx="7.1" ry="6.6" fill="#3a58c8" stroke="#3a58c8" stroke-width="5.40" stroke-linejoin="round" /><ellipse cx="373.0" cy="236.7" rx="7.1" ry="6.6" fill="#68c4e4" stroke="#68c4e4" stroke-width="3.40" stroke-linejoin="round" /><ellipse cx="373.0" cy="236.7" rx="7.1" ry="6.6" fill="#eee828" stroke="#eee828" stroke-width="1.40" stroke-linejoin="round" /><ellipse cx="373.0" cy="236.7" rx="7.1" ry="6.6" fill="#e42020" /></g>
</g>
<clipPath id="c_f20c"><rect x="403.3" y="175.0" width="55.50" height="105.30"/></clipPath>
<linearGradient id="g_f20c" x1="0" y1="175.0" x2="0" y2="280.3" gradientUnits="userSpaceOnUse"><stop offset="0" stop-color="#bababa"/><stop offset="0.3" stop-color="#cacaca"/><stop offset="0.55" stop-color="#dedede"/><stop offset="1" stop-color="#f0f0f0"/></linearGradient>
<rect x="403.3" y="175.0" width="55.50" height="105.30" fill="#222"/>
<g clip-path="url(#c_f20c)">
<g filter="url(#bl)">
<path d="M414.5,174 L421.5,184" fill="none" stroke="#a8a8a8" stroke-width="3.0" stroke-linecap="round"/>
<path d="M460,211 C455,215 451,220 452,228 C453,236 454.5,243 456,250" fill="none" stroke="#b0b0b0" stroke-width="2.5" stroke-linecap="round"/>
<path d="M413,266 C410,270.5 407,274 404,277.5" fill="none" stroke="#d2d2d2" stroke-width="4.8" stroke-linecap="round"/>
<path d="M440,268.5 C446,270 451,271 457,272.5" fill="none" stroke="#d2d2d2" stroke-width="4.6" stroke-linecap="round"/>
<path d="M433,272 L433.5,281" fill="none" stroke="#c8c8c8" stroke-width="3.0" stroke-linecap="round"/>
<path d="M429.00,174.00 C430.13,173.38 433.37,173.38 434.50,174.00 C435.63,174.62 434.67,175.28 435.80,177.70 C436.93,180.12 439.72,185.57 441.30,188.50 C442.88,191.43 444.40,193.72 445.30,195.30 C446.20,196.88 446.02,196.42 446.70,198.00 C447.38,199.58 449.43,203.13 449.40,204.80 C449.37,206.47 447.18,207.33 446.50,208.00 C445.82,208.67 445.27,205.47 445.30,208.80 C445.33,212.13 446.13,221.58 446.70,228.00 C447.27,234.42 447.98,242.95 448.70,247.30 C449.42,251.65 451.00,251.65 451.00,254.10 C451.00,256.55 450.42,259.35 448.70,262.00 C446.98,264.65 443.35,268.10 440.70,270.00 C438.05,271.90 435.63,273.03 432.80,273.40 C429.97,273.77 426.92,273.15 423.70,272.20 C420.48,271.25 416.33,269.77 413.50,267.70 C410.67,265.63 407.65,262.63 406.70,259.80 C405.75,256.97 406.97,253.87 407.80,250.70 C408.63,247.53 410.60,244.75 411.70,240.80 C412.80,236.85 414.22,231.30 414.40,227.00 C414.58,222.70 413.07,218.03 412.80,215.00 C412.53,211.97 412.12,211.40 412.80,208.80 C413.48,206.20 415.32,202.78 416.90,199.40 C418.48,196.02 420.50,192.12 422.30,188.50 C424.10,184.88 426.58,180.12 427.70,177.70 C428.82,175.28 427.87,174.62 429.00,174.00Z" fill="url(#g_f20c)"/>
</g>
<clipPath id="s_f20c"><path d="M429.00,174.00 C430.13,173.38 433.37,173.38 434.50,174.00 C435.63,174.62 434.67,175.28 435.80,177.70 C436.93,180.12 439.72,185.57 441.30,188.50 C442.88,191.43 444.40,193.72 445.30,195.30 C446.20,196.88 446.02,196.42 446.70,198.00 C447.38,199.58 449.43,203.13 449.40,204.80 C449.37,206.47 447.18,207.33 446.50,208.00 C445.82,208.67 445.27,205.47 445.30,208.80 C445.33,212.13 446.13,221.58 446.70,228.00 C447.27,234.42 447.98,242.95 448.70,247.30 C449.42,251.65 451.00,251.65 451.00,254.10 C451.00,256.55 450.42,259.35 448.70,262.00 C446.98,264.65 443.35,268.10 440.70,270.00 C438.05,271.90 435.63,273.03 432.80,273.40 C429.97,273.77 426.92,273.15 423.70,272.20 C420.48,271.25 416.33,269.77 413.50,267.70 C410.67,265.63 407.65,262.63 406.70,259.80 C405.75,256.97 406.97,253.87 407.80,250.70 C408.63,247.53 410.60,244.75 411.70,240.80 C412.80,236.85 414.22,231.30 414.40,227.00 C414.58,222.70 413.07,218.03 412.80,215.00 C412.53,211.97 412.12,211.40 412.80,208.80 C413.48,206.20 415.32,202.78 416.90,199.40 C418.48,196.02 420.50,192.12 422.30,188.50 C424.10,184.88 426.58,180.12 427.70,177.70 C428.82,175.28 427.87,174.62 429.00,174.00Z"/></clipPath>
<linearGradient id="tg_f20c" x1="0" y1="175.0" x2="0" y2="280.3" gradientUnits="userSpaceOnUse"><stop offset="0" stop-color="#fff"/><stop offset="0.5" stop-color="#999"/><stop offset="1" stop-color="#333"/></linearGradient>
<mask id="tm_f20c" maskUnits="userSpaceOnUse" x="0" y="0" width="520" height="391"><rect x="403.3" y="175.0" width="55.50" height="105.30" fill="url(#tg_f20c)"/></mask>
<g clip-path="url(#s_f20c)"><rect x="403.3" y="175.0" width="55.50" height="105.30" fill="#000" filter="url(#tex)" mask="url(#tm_f20c)" opacity="0.32"/><path d="M429.00,174.00 C430.13,173.38 433.37,173.38 434.50,174.00 C435.63,174.62 434.67,175.28 435.80,177.70 C436.93,180.12 439.72,185.57 441.30,188.50 C442.88,191.43 444.40,193.72 445.30,195.30 C446.20,196.88 446.02,196.42 446.70,198.00 C447.38,199.58 449.43,203.13 449.40,204.80 C449.37,206.47 447.18,207.33 446.50,208.00 C445.82,208.67 445.27,205.47 445.30,208.80 C445.33,212.13 446.13,221.58 446.70,228.00 C447.27,234.42 447.98,242.95 448.70,247.30 C449.42,251.65 451.00,251.65 451.00,254.10 C451.00,256.55 450.42,259.35 448.70,262.00 C446.98,264.65 443.35,268.10 440.70,270.00 C438.05,271.90 435.63,273.03 432.80,273.40 C429.97,273.77 426.92,273.15 423.70,272.20 C420.48,271.25 416.33,269.77 413.50,267.70 C410.67,265.63 407.65,262.63 406.70,259.80 C405.75,256.97 406.97,253.87 407.80,250.70 C408.63,247.53 410.60,244.75 411.70,240.80 C412.80,236.85 414.22,231.30 414.40,227.00 C414.58,222.70 413.07,218.03 412.80,215.00 C412.53,211.97 412.12,211.40 412.80,208.80 C413.48,206.20 415.32,202.78 416.90,199.40 C418.48,196.02 420.50,192.12 422.30,188.50 C424.10,184.88 426.58,180.12 427.70,177.70 C428.82,175.28 427.87,174.62 429.00,174.00Z" fill="none" stroke="#7a7a7a" stroke-width="4.5" filter="url(#bl15)" opacity="0.5"/></g>
<g clip-path="url(#s_f20c)"><ellipse cx="431.1" cy="252.9" rx="15.5" ry="17.9" fill="#f4f4f4" opacity="0.8" filter="url(#bl2)"/></g>
<g filter="url(#bb)"><ellipse cx="426.5" cy="235.9" rx="5.4" ry="5.2" fill="#26349c" stroke="#26349c" stroke-width="6.80" stroke-linejoin="round" /><ellipse cx="426.5" cy="235.9" rx="5.4" ry="5.2" fill="#d4e4ec" stroke="#d4e4ec" stroke-width="3.40" stroke-linejoin="round" /><ellipse cx="426.5" cy="235.9" rx="5.4" ry="5.2" fill="#f0c040" stroke="#f0c040" stroke-width="1.20" stroke-linejoin="round" /><ellipse cx="426.5" cy="235.9" rx="5.4" ry="5.2" fill="#e42020" /><ellipse cx="420.5" cy="240" rx="2" ry="1.6" fill="#58b8e0"/></g>
</g>
<clipPath id="c_m20a"><rect x="288.8" y="284.4" width="55.70" height="105.20"/></clipPath>
<linearGradient id="g_m20a" x1="0" y1="284.4" x2="0" y2="389.6" gradientUnits="userSpaceOnUse"><stop offset="0" stop-color="#bababa"/><stop offset="0.3" stop-color="#cacaca"/><stop offset="0.55" stop-color="#dedede"/><stop offset="1" stop-color="#f0f0f0"/></linearGradient>
<rect x="288.8" y="284.4" width="55.70" height="105.20" fill="#222"/>
<g clip-path="url(#c_m20a)">
<g filter="url(#bl)">
<path d="M300.6,374 C296,378 292,383 289,388" fill="none" stroke="#d2d2d2" stroke-width="5.0" stroke-linecap="round"/>
<path d="M326.7,374 C331,378 337,384 344,388" fill="none" stroke="#d2d2d2" stroke-width="4.6" stroke-linecap="round"/>
<path d="M314.5,380 L315.4,391" fill="none" stroke="#d8d8d8" stroke-width="3.6" stroke-linecap="round"/>
<path d="M309.70,288.50 C311.17,287.75 311.88,288.40 313.00,289.00 C314.12,289.60 314.90,290.93 316.40,292.10 C317.90,293.27 320.42,295.10 322.00,296.00 C323.58,296.90 324.40,297.08 325.90,297.50 C327.40,297.92 329.42,297.82 331.00,298.50 C332.58,299.18 334.82,300.43 335.40,301.60 C335.98,302.77 334.95,304.60 334.50,305.50 C334.05,306.40 333.45,305.62 332.70,307.00 C331.95,308.38 329.78,310.87 330.00,313.80 C330.22,316.73 333.10,320.73 334.00,324.60 C334.90,328.47 334.40,332.77 335.40,337.00 C336.40,341.23 338.80,346.62 340.00,350.00 C341.20,353.38 342.55,354.57 342.60,357.30 C342.65,360.03 341.57,363.95 340.30,366.40 C339.03,368.85 337.27,370.50 335.00,372.00 C332.73,373.50 329.20,374.23 326.70,375.40 C324.20,376.57 322.27,378.05 320.00,379.00 C317.73,379.95 315.38,381.32 313.10,381.10 C310.82,380.88 308.38,378.65 306.30,377.70 C304.22,376.75 302.82,376.18 300.60,375.40 C298.38,374.62 294.80,374.23 293.00,373.00 C291.20,371.77 290.42,369.48 289.80,368.00 C289.18,366.52 289.43,367.10 289.30,364.10 C289.17,361.10 288.77,354.52 289.00,350.00 C289.23,345.48 289.97,341.23 290.70,337.00 C291.43,332.77 292.72,327.80 293.40,324.60 C294.08,321.40 293.90,321.18 294.80,317.80 C295.70,314.42 297.23,308.35 298.80,304.30 C300.37,300.25 302.38,296.13 304.20,293.50 C306.02,290.87 308.23,289.25 309.70,288.50Z" fill="url(#g_m20a)"/>
</g>
<clipPath id="s_m20a"><path d="M309.70,288.50 C311.17,287.75 311.88,288.40 313.00,289.00 C314.12,289.60 314.90,290.93 316.40,292.10 C317.90,293.27 320.42,295.10 322.00,296.00 C323.58,296.90 324.40,297.08 325.90,297.50 C327.40,297.92 329.42,297.82 331.00,298.50 C332.58,299.18 334.82,300.43 335.40,301.60 C335.98,302.77 334.95,304.60 334.50,305.50 C334.05,306.40 333.45,305.62 332.70,307.00 C331.95,308.38 329.78,310.87 330.00,313.80 C330.22,316.73 333.10,320.73 334.00,324.60 C334.90,328.47 334.40,332.77 335.40,337.00 C336.40,341.23 338.80,346.62 340.00,350.00 C341.20,353.38 342.55,354.57 342.60,357.30 C342.65,360.03 341.57,363.95 340.30,366.40 C339.03,368.85 337.27,370.50 335.00,372.00 C332.73,373.50 329.20,374.23 326.70,375.40 C324.20,376.57 322.27,378.05 320.00,379.00 C317.73,379.95 315.38,381.32 313.10,381.10 C310.82,380.88 308.38,378.65 306.30,377.70 C304.22,376.75 302.82,376.18 300.60,375.40 C298.38,374.62 294.80,374.23 293.00,373.00 C291.20,371.77 290.42,369.48 289.80,368.00 C289.18,366.52 289.43,367.10 289.30,364.10 C289.17,361.10 288.77,354.52 289.00,350.00 C289.23,345.48 289.97,341.23 290.70,337.00 C291.43,332.77 292.72,327.80 293.40,324.60 C294.08,321.40 293.90,321.18 294.80,317.80 C295.70,314.42 297.23,308.35 298.80,304.30 C300.37,300.25 302.38,296.13 304.20,293.50 C306.02,290.87 308.23,289.25 309.70,288.50Z"/></clipPath>
<linearGradient id="tg_m20a" x1="0" y1="284.4" x2="0" y2="389.6" gradientUnits="userSpaceOnUse"><stop offset="0" stop-color="#fff"/><stop offset="0.5" stop-color="#999"/><stop offset="1" stop-color="#333"/></linearGradient>
<mask id="tm_m20a" maskUnits="userSpaceOnUse" x="0" y="0" width="520" height="391"><rect x="288.8" y="284.4" width="55.70" height="105.20" fill="url(#tg_m20a)"/></mask>
<g clip-path="url(#s_m20a)"><rect x="288.8" y="284.4" width="55.70" height="105.20" fill="#000" filter="url(#tex)" mask="url(#tm_m20a)" opacity="0.32"/><path d="M309.70,288.50 C311.17,287.75 311.88,288.40 313.00,289.00 C314.12,289.60 314.90,290.93 316.40,292.10 C317.90,293.27 320.42,295.10 322.00,296.00 C323.58,296.90 324.40,297.08 325.90,297.50 C327.40,297.92 329.42,297.82 331.00,298.50 C332.58,299.18 334.82,300.43 335.40,301.60 C335.98,302.77 334.95,304.60 334.50,305.50 C334.05,306.40 333.45,305.62 332.70,307.00 C331.95,308.38 329.78,310.87 330.00,313.80 C330.22,316.73 333.10,320.73 334.00,324.60 C334.90,328.47 334.40,332.77 335.40,337.00 C336.40,341.23 338.80,346.62 340.00,350.00 C341.20,353.38 342.55,354.57 342.60,357.30 C342.65,360.03 341.57,363.95 340.30,366.40 C339.03,368.85 337.27,370.50 335.00,372.00 C332.73,373.50 329.20,374.23 326.70,375.40 C324.20,376.57 322.27,378.05 320.00,379.00 C317.73,379.95 315.38,381.32 313.10,381.10 C310.82,380.88 308.38,378.65 306.30,377.70 C304.22,376.75 302.82,376.18 300.60,375.40 C298.38,374.62 294.80,374.23 293.00,373.00 C291.20,371.77 290.42,369.48 289.80,368.00 C289.18,366.52 289.43,367.10 289.30,364.10 C289.17,361.10 288.77,354.52 289.00,350.00 C289.23,345.48 289.97,341.23 290.70,337.00 C291.43,332.77 292.72,327.80 293.40,324.60 C294.08,321.40 293.90,321.18 294.80,317.80 C295.70,314.42 297.23,308.35 298.80,304.30 C300.37,300.25 302.38,296.13 304.20,293.50 C306.02,290.87 308.23,289.25 309.70,288.50Z" fill="none" stroke="#7a7a7a" stroke-width="4.5" filter="url(#bl15)" opacity="0.5"/></g>
<g clip-path="url(#s_m20a)"><ellipse cx="316.6" cy="362.2" rx="15.6" ry="17.9" fill="#f4f4f4" opacity="0.8" filter="url(#bl2)"/></g>
<g filter="url(#bb)"><ellipse cx="313" cy="355.5" rx="18.5" ry="9.2" transform="rotate(3 313 355.5)" fill="#3242b0"/><ellipse cx="312" cy="345" rx="17.4" ry="12.2" transform="rotate(4 312 345)" fill="#3242b0" stroke="#3242b0" stroke-width="8.40" stroke-linejoin="round" /><ellipse cx="312" cy="345" rx="17.4" ry="12.2" transform="rotate(4 312 345)" fill="#68c4e4" stroke="#68c4e4" stroke-width="4.40" stroke-linejoin="round" /><ellipse cx="312" cy="345" rx="17.4" ry="12.2" transform="rotate(4 312 345)" fill="#eee828" stroke="#eee828" stroke-width="1.80" stroke-linejoin="round" /><ellipse cx="312" cy="345" rx="17.4" ry="12.2" transform="rotate(4 312 345)" fill="#e42020" /><ellipse cx="309.5" cy="344.8" rx="4.5" ry="2.1" fill="#b8dcc0"/><ellipse cx="311.5" cy="345.2" rx="1.6" ry="1.2" fill="#58c8a0"/><ellipse cx="312.5" cy="361.3" rx="2.2" ry="1.1" fill="#60c0e0"/></g>
</g>
<clipPath id="c_m20b"><rect x="347.0" y="284.4" width="54.30" height="105.20"/></clipPath>
<linearGradient id="g_m20b" x1="0" y1="284.4" x2="0" y2="389.6" gradientUnits="userSpaceOnUse"><stop offset="0" stop-color="#bababa"/><stop offset="0.3" stop-color="#cacaca"/><stop offset="0.55" stop-color="#dedede"/><stop offset="1" stop-color="#f0f0f0"/></linearGradient>
<rect x="347.0" y="284.4" width="54.30" height="105.20" fill="#222"/>
<g clip-path="url(#c_m20b)">
<g filter="url(#bl)">
<path d="M348,375 C351,378.5 354,381 357.5,382.5" fill="none" stroke="#d2d2d2" stroke-width="4.6" stroke-linecap="round"/>
<path d="M382,379.5 C388,380.5 393,381 398.5,382.5" fill="none" stroke="#d2d2d2" stroke-width="4.8" stroke-linecap="round"/>
<path d="M370.40,286.50 C371.57,286.42 372.88,286.57 374.00,287.50 C375.12,288.43 375.93,290.52 377.10,292.10 C378.27,293.68 379.42,295.87 381.00,297.00 C382.58,298.13 384.77,298.40 386.60,298.90 C388.43,299.40 390.42,299.15 392.00,300.00 C393.58,300.85 395.77,302.50 396.10,304.00 C396.43,305.50 394.90,308.00 394.00,309.00 C393.10,310.00 391.25,308.53 390.70,310.00 C390.15,311.47 390.25,313.30 390.70,317.80 C391.15,322.30 392.50,330.05 393.40,337.00 C394.30,343.95 395.83,354.23 396.10,359.50 C396.37,364.77 396.18,365.85 395.00,368.60 C393.82,371.35 391.47,373.53 389.00,376.00 C386.53,378.47 382.80,381.42 380.20,383.40 C377.60,385.38 375.87,387.53 373.40,387.90 C370.93,388.27 368.05,386.75 365.40,385.60 C362.75,384.45 360.07,382.77 357.50,381.00 C354.93,379.23 351.75,376.50 350.00,375.00 C348.25,373.50 347.58,374.95 347.00,372.00 C346.42,369.05 345.98,363.13 346.50,357.30 C347.02,351.47 349.28,342.45 350.10,337.00 C350.92,331.55 350.73,328.92 351.40,324.60 C352.07,320.28 354.00,313.70 354.10,311.10 C354.20,308.50 352.45,310.52 352.00,309.00 C351.55,307.48 351.07,304.00 351.40,302.00 C351.73,300.00 352.90,297.92 354.00,297.00 C355.10,296.08 356.85,296.33 358.00,296.50 C359.15,296.67 359.97,298.73 360.90,298.00 C361.83,297.27 362.58,293.77 363.60,292.10 C364.62,290.43 365.87,288.93 367.00,288.00 C368.13,287.07 369.23,286.58 370.40,286.50Z" fill="url(#g_m20b)"/>
</g>
<clipPath id="s_m20b"><path d="M370.40,286.50 C371.57,286.42 372.88,286.57 374.00,287.50 C375.12,288.43 375.93,290.52 377.10,292.10 C378.27,293.68 379.42,295.87 381.00,297.00 C382.58,298.13 384.77,298.40 386.60,298.90 C388.43,299.40 390.42,299.15 392.00,300.00 C393.58,300.85 395.77,302.50 396.10,304.00 C396.43,305.50 394.90,308.00 394.00,309.00 C393.10,310.00 391.25,308.53 390.70,310.00 C390.15,311.47 390.25,313.30 390.70,317.80 C391.15,322.30 392.50,330.05 393.40,337.00 C394.30,343.95 395.83,354.23 396.10,359.50 C396.37,364.77 396.18,365.85 395.00,368.60 C393.82,371.35 391.47,373.53 389.00,376.00 C386.53,378.47 382.80,381.42 380.20,383.40 C377.60,385.38 375.87,387.53 373.40,387.90 C370.93,388.27 368.05,386.75 365.40,385.60 C362.75,384.45 360.07,382.77 357.50,381.00 C354.93,379.23 351.75,376.50 350.00,375.00 C348.25,373.50 347.58,374.95 347.00,372.00 C346.42,369.05 345.98,363.13 346.50,357.30 C347.02,351.47 349.28,342.45 350.10,337.00 C350.92,331.55 350.73,328.92 351.40,324.60 C352.07,320.28 354.00,313.70 354.10,311.10 C354.20,308.50 352.45,310.52 352.00,309.00 C351.55,307.48 351.07,304.00 351.40,302.00 C351.73,300.00 352.90,297.92 354.00,297.00 C355.10,296.08 356.85,296.33 358.00,296.50 C359.15,296.67 359.97,298.73 360.90,298.00 C361.83,297.27 362.58,293.77 363.60,292.10 C364.62,290.43 365.87,288.93 367.00,288.00 C368.13,287.07 369.23,286.58 370.40,286.50Z"/></clipPath>
<linearGradient id="tg_m20b" x1="0" y1="284.4" x2="0" y2="389.6" gradientUnits="userSpaceOnUse"><stop offset="0" stop-color="#fff"/><stop offset="0.5" stop-color="#999"/><stop offset="1" stop-color="#333"/></linearGradient>
<mask id="tm_m20b" maskUnits="userSpaceOnUse" x="0" y="0" width="520" height="391"><rect x="347.0" y="284.4" width="54.30" height="105.20" fill="url(#tg_m20b)"/></mask>
<g clip-path="url(#s_m20b)"><rect x="347.0" y="284.4" width="54.30" height="105.20" fill="#000" filter="url(#tex)" mask="url(#tm_m20b)" opacity="0.32"/><path d="M370.40,286.50 C371.57,286.42 372.88,286.57 374.00,287.50 C375.12,288.43 375.93,290.52 377.10,292.10 C378.27,293.68 379.42,295.87 381.00,297.00 C382.58,298.13 384.77,298.40 386.60,298.90 C388.43,299.40 390.42,299.15 392.00,300.00 C393.58,300.85 395.77,302.50 396.10,304.00 C396.43,305.50 394.90,308.00 394.00,309.00 C393.10,310.00 391.25,308.53 390.70,310.00 C390.15,311.47 390.25,313.30 390.70,317.80 C391.15,322.30 392.50,330.05 393.40,337.00 C394.30,343.95 395.83,354.23 396.10,359.50 C396.37,364.77 396.18,365.85 395.00,368.60 C393.82,371.35 391.47,373.53 389.00,376.00 C386.53,378.47 382.80,381.42 380.20,383.40 C377.60,385.38 375.87,387.53 373.40,387.90 C370.93,388.27 368.05,386.75 365.40,385.60 C362.75,384.45 360.07,382.77 357.50,381.00 C354.93,379.23 351.75,376.50 350.00,375.00 C348.25,373.50 347.58,374.95 347.00,372.00 C346.42,369.05 345.98,363.13 346.50,357.30 C347.02,351.47 349.28,342.45 350.10,337.00 C350.92,331.55 350.73,328.92 351.40,324.60 C352.07,320.28 354.00,313.70 354.10,311.10 C354.20,308.50 352.45,310.52 352.00,309.00 C351.55,307.48 351.07,304.00 351.40,302.00 C351.73,300.00 352.90,297.92 354.00,297.00 C355.10,296.08 356.85,296.33 358.00,296.50 C359.15,296.67 359.97,298.73 360.90,298.00 C361.83,297.27 362.58,293.77 363.60,292.10 C364.62,290.43 365.87,288.93 367.00,288.00 C368.13,287.07 369.23,286.58 370.40,286.50Z" fill="none" stroke="#7a7a7a" stroke-width="4.5" filter="url(#bl15)" opacity="0.5"/></g>
<g clip-path="url(#s_m20b)"><ellipse cx="374.1" cy="362.2" rx="15.2" ry="17.9" fill="#f4f4f4" opacity="0.8" filter="url(#bl2)"/></g>
<g filter="url(#bb)"><path d="M359.00,328.50 C359.42,327.17 360.17,325.83 361.00,325.00 C361.83,324.17 362.92,323.70 364.00,323.50 C365.08,323.30 366.50,323.30 367.50,323.80 C368.50,324.30 368.83,325.22 370.00,326.50 C371.17,327.78 372.92,330.00 374.50,331.50 C376.08,333.00 377.92,334.25 379.50,335.50 C381.08,336.75 382.75,337.83 384.00,339.00 C385.25,340.17 386.33,341.33 387.00,342.50 C387.67,343.67 388.17,345.00 388.00,346.00 C387.83,347.00 387.00,347.83 386.00,348.50 C385.00,349.17 383.58,349.67 382.00,350.00 C380.42,350.33 378.00,350.12 376.50,350.50 C375.00,350.88 374.50,351.92 373.00,352.30 C371.50,352.68 369.00,353.18 367.50,352.80 C366.00,352.42 365.00,350.97 364.00,350.00 C363.00,349.03 362.25,348.08 361.50,347.00 C360.75,345.92 359.92,344.92 359.50,343.50 C359.08,342.08 359.17,340.25 359.00,338.50 C358.83,336.75 358.50,334.67 358.50,333.00 C358.50,331.33 358.58,329.83 359.00,328.50Z" fill="#3242b0" stroke="#3242b0" stroke-width="7.20" stroke-linejoin="round" /><path d="M359.00,328.50 C359.42,327.17 360.17,325.83 361.00,325.00 C361.83,324.17 362.92,323.70 364.00,323.50 C365.08,323.30 366.50,323.30 367.50,323.80 C368.50,324.30 368.83,325.22 370.00,326.50 C371.17,327.78 372.92,330.00 374.50,331.50 C376.08,333.00 377.92,334.25 379.50,335.50 C381.08,336.75 382.75,337.83 384.00,339.00 C385.25,340.17 386.33,341.33 387.00,342.50 C387.67,343.67 388.17,345.00 388.00,346.00 C387.83,347.00 387.00,347.83 386.00,348.50 C385.00,349.17 383.58,349.67 382.00,350.00 C380.42,350.33 378.00,350.12 376.50,350.50 C375.00,350.88 374.50,351.92 373.00,352.30 C371.50,352.68 369.00,353.18 367.50,352.80 C366.00,352.42 365.00,350.97 364.00,350.00 C363.00,349.03 362.25,348.08 361.50,347.00 C360.75,345.92 359.92,344.92 359.50,343.50 C359.08,342.08 359.17,340.25 359.00,338.50 C358.83,336.75 358.50,334.67 358.50,333.00 C358.50,331.33 358.58,329.83 359.00,328.50Z" fill="#68c4e4" stroke="#68c4e4" stroke-width="3.80" stroke-linejoin="round" /><path d="M359.00,328.50 C359.42,327.17 360.17,325.83 361.00,325.00 C361.83,324.17 362.92,323.70 364.00,323.50 C365.08,323.30 366.50,323.30 367.50,323.80 C368.50,324.30 368.83,325.22 370.00,326.50 C371.17,327.78 372.92,330.00 374.50,331.50 C376.08,333.00 377.92,334.25 379.50,335.50 C381.08,336.75 382.75,337.83 384.00,339.00 C385.25,340.17 386.33,341.33 387.00,342.50 C387.67,343.67 388.17,345.00 388.00,346.00 C387.83,347.00 387.00,347.83 386.00,348.50 C385.00,349.17 383.58,349.67 382.00,350.00 C380.42,350.33 378.00,350.12 376.50,350.50 C375.00,350.88 374.50,351.92 373.00,352.30 C371.50,352.68 369.00,353.18 367.50,352.80 C366.00,352.42 365.00,350.97 364.00,350.00 C363.00,349.03 362.25,348.08 361.50,347.00 C360.75,345.92 359.92,344.92 359.50,343.50 C359.08,342.08 359.17,340.25 359.00,338.50 C358.83,336.75 358.50,334.67 358.50,333.00 C358.50,331.33 358.58,329.83 359.00,328.50Z" fill="#8ccc50" stroke="#8ccc50" stroke-width="2.00" stroke-linejoin="round" /><path d="M359.00,328.50 C359.42,327.17 360.17,325.83 361.00,325.00 C361.83,324.17 362.92,323.70 364.00,323.50 C365.08,323.30 366.50,323.30 367.50,323.80 C368.50,324.30 368.83,325.22 370.00,326.50 C371.17,327.78 372.92,330.00 374.50,331.50 C376.08,333.00 377.92,334.25 379.50,335.50 C381.08,336.75 382.75,337.83 384.00,339.00 C385.25,340.17 386.33,341.33 387.00,342.50 C387.67,343.67 388.17,345.00 388.00,346.00 C387.83,347.00 387.00,347.83 386.00,348.50 C385.00,349.17 383.58,349.67 382.00,350.00 C380.42,350.33 378.00,350.12 376.50,350.50 C375.00,350.88 374.50,351.92 373.00,352.30 C371.50,352.68 369.00,353.18 367.50,352.80 C366.00,352.42 365.00,350.97 364.00,350.00 C363.00,349.03 362.25,348.08 361.50,347.00 C360.75,345.92 359.92,344.92 359.50,343.50 C359.08,342.08 359.17,340.25 359.00,338.50 C358.83,336.75 358.50,334.67 358.50,333.00 C358.50,331.33 358.58,329.83 359.00,328.50Z" fill="#f0e020" /><ellipse cx="365" cy="328.2" rx="4.8" ry="2.9" transform="rotate(15 365 328.2)" fill="#f07a20"/><ellipse cx="376" cy="342" rx="8" ry="4" transform="rotate(20 376 342)" fill="#f8f070" filter="url(#bl15)"/></g>
</g>
<clipPath id="c_m20c"><rect x="403.3" y="284.4" width="55.50" height="105.20"/></clipPath>
<linearGradient id="g_m20c" x1="0" y1="284.4" x2="0" y2="389.6" gradientUnits="userSpaceOnUse"><stop offset="0" stop-color="#bababa"/><stop offset="0.3" stop-color="#cacaca"/><stop offset="0.55" stop-color="#dedede"/><stop offset="1" stop-color="#f0f0f0"/></linearGradient>
<rect x="403.3" y="284.4" width="55.50" height="105.20" fill="#222"/>
<g clip-path="url(#c_m20c)">
<g filter="url(#bl)">
<path d="M458,305 C455,318 452,330 453,340 C454,350 456,360 454.5,371" fill="none" stroke="#cccccc" stroke-width="2.8" stroke-linecap="round"/>
<path d="M406.7,372 C408,376 410,379.5 412.4,382.2" fill="none" stroke="#d2d2d2" stroke-width="4.8" stroke-linecap="round"/>
<path d="M438.5,374 C443,376 448,377.7 456.6,379.5" fill="none" stroke="#d2d2d2" stroke-width="4.6" stroke-linecap="round"/>
<path d="M427.1,379 L427.1,391" fill="none" stroke="#d0d0d0" stroke-width="3.4" stroke-linecap="round"/>
<path d="M438.60,288.00 C440.40,288.00 441.25,290.28 442.60,292.10 C443.95,293.92 445.13,297.83 446.70,298.90 C448.27,299.97 450.42,297.98 452.00,298.50 C453.58,299.02 455.53,300.58 456.20,302.00 C456.87,303.42 456.87,305.72 456.00,307.00 C455.13,308.28 452.10,308.57 451.00,309.70 C449.90,310.83 449.67,311.32 449.40,313.80 C449.13,316.28 449.63,320.73 449.40,324.60 C449.17,328.47 448.12,331.55 448.00,337.00 C447.88,342.45 448.58,352.40 448.70,357.30 C448.82,362.20 449.65,363.78 448.70,366.40 C447.75,369.02 445.28,371.30 443.00,373.00 C440.72,374.70 437.65,375.43 435.00,376.60 C432.35,377.77 429.93,379.82 427.10,380.00 C424.27,380.18 421.02,378.70 418.00,377.70 C414.98,376.70 411.27,375.62 409.00,374.00 C406.73,372.38 405.17,370.22 404.40,368.00 C403.63,365.78 404.50,363.70 404.40,360.70 C404.30,357.70 403.73,354.12 403.80,350.00 C403.87,345.88 404.42,340.23 404.80,336.00 C405.18,331.77 405.22,328.75 406.10,324.60 C406.98,320.45 409.78,314.03 410.10,311.10 C410.42,308.17 408.45,308.52 408.00,307.00 C407.55,305.48 407.07,303.33 407.40,302.00 C407.73,300.67 408.42,299.42 410.00,299.00 C411.58,298.58 415.23,299.83 416.90,299.50 C418.57,299.17 417.52,298.23 420.00,297.00 C422.48,295.77 428.70,293.60 431.80,292.10 C434.90,290.60 436.80,288.00 438.60,288.00Z" fill="url(#g_m20c)"/>
</g>
<clipPath id="s_m20c"><path d="M438.60,288.00 C440.40,288.00 441.25,290.28 442.60,292.10 C443.95,293.92 445.13,297.83 446.70,298.90 C448.27,299.97 450.42,297.98 452.00,298.50 C453.58,299.02 455.53,300.58 456.20,302.00 C456.87,303.42 456.87,305.72 456.00,307.00 C455.13,308.28 452.10,308.57 451.00,309.70 C449.90,310.83 449.67,311.32 449.40,313.80 C449.13,316.28 449.63,320.73 449.40,324.60 C449.17,328.47 448.12,331.55 448.00,337.00 C447.88,342.45 448.58,352.40 448.70,357.30 C448.82,362.20 449.65,363.78 448.70,366.40 C447.75,369.02 445.28,371.30 443.00,373.00 C440.72,374.70 437.65,375.43 435.00,376.60 C432.35,377.77 429.93,379.82 427.10,380.00 C424.27,380.18 421.02,378.70 418.00,377.70 C414.98,376.70 411.27,375.62 409.00,374.00 C406.73,372.38 405.17,370.22 404.40,368.00 C403.63,365.78 404.50,363.70 404.40,360.70 C404.30,357.70 403.73,354.12 403.80,350.00 C403.87,345.88 404.42,340.23 404.80,336.00 C405.18,331.77 405.22,328.75 406.10,324.60 C406.98,320.45 409.78,314.03 410.10,311.10 C410.42,308.17 408.45,308.52 408.00,307.00 C407.55,305.48 407.07,303.33 407.40,302.00 C407.73,300.67 408.42,299.42 410.00,299.00 C411.58,298.58 415.23,299.83 416.90,299.50 C418.57,299.17 417.52,298.23 420.00,297.00 C422.48,295.77 428.70,293.60 431.80,292.10 C434.90,290.60 436.80,288.00 438.60,288.00Z"/></clipPath>
<linearGradient id="tg_m20c" x1="0" y1="284.4" x2="0" y2="389.6" gradientUnits="userSpaceOnUse"><stop offset="0" stop-color="#fff"/><stop offset="0.5" stop-color="#999"/><stop offset="1" stop-color="#333"/></linearGradient>
<mask id="tm_m20c" maskUnits="userSpaceOnUse" x="0" y="0" width="520" height="391"><rect x="403.3" y="284.4" width="55.50" height="105.20" fill="url(#tg_m20c)"/></mask>
<g clip-path="url(#s_m20c)"><rect x="403.3" y="284.4" width="55.50" height="105.20" fill="#000" filter="url(#tex)" mask="url(#tm_m20c)" opacity="0.32"/><path d="M438.60,288.00 C440.40,288.00 441.25,290.28 442.60,292.10 C443.95,293.92 445.13,297.83 446.70,298.90 C448.27,299.97 450.42,297.98 452.00,298.50 C453.58,299.02 455.53,300.58 456.20,302.00 C456.87,303.42 456.87,305.72 456.00,307.00 C455.13,308.28 452.10,308.57 451.00,309.70 C449.90,310.83 449.67,311.32 449.40,313.80 C449.13,316.28 449.63,320.73 449.40,324.60 C449.17,328.47 448.12,331.55 448.00,337.00 C447.88,342.45 448.58,352.40 448.70,357.30 C448.82,362.20 449.65,363.78 448.70,366.40 C447.75,369.02 445.28,371.30 443.00,373.00 C440.72,374.70 437.65,375.43 435.00,376.60 C432.35,377.77 429.93,379.82 427.10,380.00 C424.27,380.18 421.02,378.70 418.00,377.70 C414.98,376.70 411.27,375.62 409.00,374.00 C406.73,372.38 405.17,370.22 404.40,368.00 C403.63,365.78 404.50,363.70 404.40,360.70 C404.30,357.70 403.73,354.12 403.80,350.00 C403.87,345.88 404.42,340.23 404.80,336.00 C405.18,331.77 405.22,328.75 406.10,324.60 C406.98,320.45 409.78,314.03 410.10,311.10 C410.42,308.17 408.45,308.52 408.00,307.00 C407.55,305.48 407.07,303.33 407.40,302.00 C407.73,300.67 408.42,299.42 410.00,299.00 C411.58,298.58 415.23,299.83 416.90,299.50 C418.57,299.17 417.52,298.23 420.00,297.00 C422.48,295.77 428.70,293.60 431.80,292.10 C434.90,290.60 436.80,288.00 438.60,288.00Z" fill="none" stroke="#7a7a7a" stroke-width="4.5" filter="url(#bl15)" opacity="0.5"/></g>
<g clip-path="url(#s_m20c)"><ellipse cx="431.1" cy="362.2" rx="15.5" ry="17.9" fill="#f4f4f4" opacity="0.8" filter="url(#bl2)"/></g>
<g filter="url(#bb)"><path d="M413.50,337.00 C414.17,335.43 415.25,334.97 418.00,334.60 C420.75,334.23 426.67,334.73 430.00,334.80 C433.33,334.87 436.28,334.47 438.00,335.00 C439.72,335.53 439.92,335.83 440.30,338.00 C440.68,340.17 440.68,345.58 440.30,348.00 C439.92,350.42 439.72,351.47 438.00,352.50 C436.28,353.53 433.00,353.88 430.00,354.20 C427.00,354.52 422.67,354.52 420.00,354.40 C417.33,354.28 415.20,354.40 414.00,353.50 C412.80,352.60 412.80,350.58 412.80,349.00 C412.80,347.42 413.88,346.00 414.00,344.00 C414.12,342.00 412.83,338.57 413.50,337.00Z" fill="#3a4cbc"/><ellipse cx="429.8" cy="344.7" rx="8.1" ry="5.6" transform="rotate(-12 429.8 344.7)" fill="#4a68cc" stroke="#4a68cc" stroke-width="7.20" stroke-linejoin="round" /><ellipse cx="429.8" cy="344.7" rx="8.1" ry="5.6" transform="rotate(-12 429.8 344.7)" fill="#68c4e4" stroke="#68c4e4" stroke-width="4.40" stroke-linejoin="round" /><ellipse cx="429.8" cy="344.7" rx="8.1" ry="5.6" transform="rotate(-12 429.8 344.7)" fill="#eee828" stroke="#eee828" stroke-width="1.60" stroke-linejoin="round" /><ellipse cx="429.8" cy="344.7" rx="8.1" ry="5.6" transform="rotate(-12 429.8 344.7)" fill="#e42020" /></g>
</g>
<defs><linearGradient id="cb" x1="0" y1="0" x2="0" y2="1"><stop offset="0" stop-color="#a82020"/><stop offset="0.018" stop-color="#c82828"/><stop offset="0.043" stop-color="#d83030"/><stop offset="0.1" stop-color="#e06030"/><stop offset="0.137" stop-color="#e89030"/><stop offset="0.174" stop-color="#e8c030"/><stop offset="0.2" stop-color="#e8e030"/><stop offset="0.255" stop-color="#c8e040"/><stop offset="0.305" stop-color="#a8d048"/><stop offset="0.36" stop-color="#90c848"/><stop offset="0.46" stop-color="#78c058"/><stop offset="0.57" stop-color="#70c070"/><stop offset="0.62" stop-color="#70c0a0"/><stop offset="0.676" stop-color="#70c0d8"/><stop offset="0.728" stop-color="#60b8e8"/><stop offset="0.755" stop-color="#5080d0"/><stop offset="0.78" stop-color="#4060c0"/><stop offset="0.833" stop-color="#3850b0"/><stop offset="0.886" stop-color="#3848a8"/><stop offset="0.936" stop-color="#4040a0"/><stop offset="0.98" stop-color="#5040a0"/><stop offset="0.99" stop-color="#9080b8"/><stop offset="1" stop-color="#403070"/></linearGradient></defs>
<rect x="474.4" y="181.4" width="9.3" height="159.7" fill="url(#cb)" stroke="#3a2a2a" stroke-width="0.7"/>
<line x1="484" x2="488" y1="182.40" y2="182.40" stroke="#444" stroke-width="0.8"/>
<line x1="484" x2="488" y1="192.29" y2="192.29" stroke="#444" stroke-width="0.8"/>
<line x1="484" x2="488" y1="202.19" y2="202.19" stroke="#444" stroke-width="0.8"/>
<line x1="484" x2="488" y1="212.08" y2="212.08" stroke="#444" stroke-width="0.8"/>
<line x1="484" x2="488" y1="221.98" y2="221.98" stroke="#444" stroke-width="0.8"/>
<line x1="484" x2="488" y1="231.87" y2="231.87" stroke="#444" stroke-width="0.8"/>
<line x1="484" x2="488" y1="241.76" y2="241.76" stroke="#444" stroke-width="0.8"/>
<line x1="484" x2="488" y1="251.66" y2="251.66" stroke="#444" stroke-width="0.8"/>
<line x1="484" x2="488" y1="261.55" y2="261.55" stroke="#444" stroke-width="0.8"/>
<line x1="484" x2="488" y1="271.45" y2="271.45" stroke="#444" stroke-width="0.8"/>
<line x1="484" x2="488" y1="281.34" y2="281.34" stroke="#444" stroke-width="0.8"/>
<line x1="484" x2="488" y1="291.23" y2="291.23" stroke="#444" stroke-width="0.8"/>
<line x1="484" x2="488" y1="301.13" y2="301.13" stroke="#444" stroke-width="0.8"/>
<line x1="484" x2="488" y1="311.02" y2="311.02" stroke="#444" stroke-width="0.8"/>
<line x1="484" x2="488" y1="320.92" y2="320.92" stroke="#444" stroke-width="0.8"/>
<line x1="484" x2="488" y1="330.81" y2="330.81" stroke="#444" stroke-width="0.8"/>
<line x1="484" x2="488" y1="340.70" y2="340.70" stroke="#444" stroke-width="0.8"/>
<text x="491.6" y="203.79" class="cbl" textLength="19.2" lengthAdjust="spacingAndGlyphs">80000</text>
<text x="491.6" y="243.36" class="cbl" textLength="19.2" lengthAdjust="spacingAndGlyphs">60000</text>
<text x="491.6" y="282.94" class="cbl" textLength="19.2" lengthAdjust="spacingAndGlyphs">40000</text>
<text x="491.6" y="322.52" class="cbl" textLength="19.2" lengthAdjust="spacingAndGlyphs">20000</text>
<rect x="465.2" y="345.2" width="52.4" height="32" fill="#fff" stroke="#444" stroke-width="0.8"/>
<text x="474.6" y="353.7" class="t8" textLength="33.2" lengthAdjust="spacingAndGlyphs">Color Bar</text>
<text x="469.2" y="363.4" class="t8" textLength="44.6" lengthAdjust="spacingAndGlyphs">Min = 10000</text>
<text x="468.6" y="373.1" class="t8" textLength="45.8" lengthAdjust="spacingAndGlyphs">Max = 90000</text>
</svg>
</body></html>
